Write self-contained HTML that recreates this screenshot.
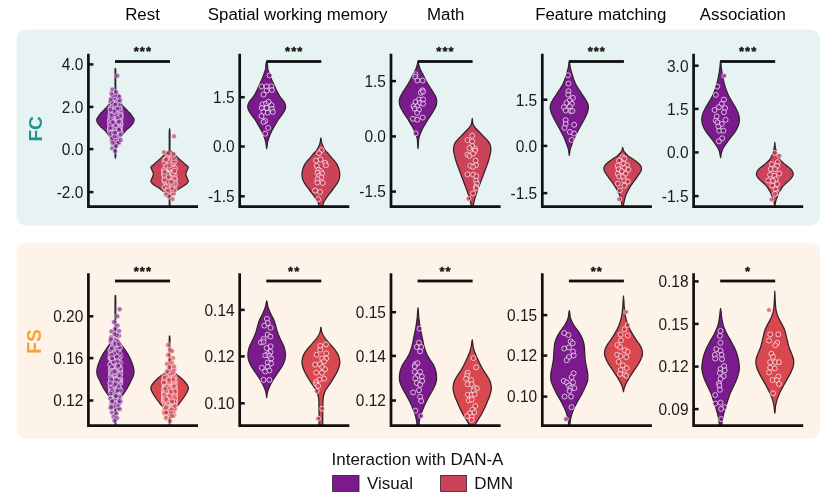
<!DOCTYPE html>
<html><head><meta charset="utf-8"><title>Figure</title>
<style>
html,body{margin:0;padding:0;background:#fff;}
body{width:832px;height:500px;overflow:hidden;}
#wrap{width:832px;height:500px;will-change:transform;}
svg{display:block;font-family:"Liberation Sans",sans-serif;}
</style></head><body>
<div id="wrap">
<svg width="832" height="500" viewBox="0 0 832 500">
<defs><filter id="gs" filterUnits="userSpaceOnUse" x="0" y="0" width="832" height="500"><feColorMatrix type="saturate" values="1"/></filter></defs>
<rect x="16.5" y="29.4" width="803.5" height="196.2" rx="9.5" ry="9.5" fill="#e7f3f3"/>
<rect x="16.5" y="243" width="803.5" height="195.8" rx="9.5" ry="9.5" fill="#fef3e8"/>
<path d="M115.40,68.50C115.52,68.50 115.70,68.08 115.76,72.00C115.82,75.92 115.67,88.00 115.76,92.00C115.85,96.00 115.88,94.67 116.30,96.00C116.72,97.33 117.33,98.50 118.30,100.00C119.27,101.50 120.85,103.50 122.10,105.00C123.35,106.50 124.52,107.67 125.80,109.00C127.08,110.33 128.63,111.67 129.80,113.00C130.97,114.33 132.08,115.90 132.80,117.00C133.52,118.10 134.03,118.60 134.10,119.60C134.17,120.60 133.92,121.77 133.20,123.00C132.48,124.23 131.12,125.67 129.80,127.00C128.48,128.33 126.55,129.67 125.30,131.00C124.05,132.33 123.30,133.67 122.30,135.00C121.30,136.33 120.13,137.67 119.30,139.00C118.47,140.33 117.85,141.67 117.30,143.00C116.75,144.33 116.26,145.83 116.00,147.00C115.74,148.17 115.80,148.50 115.76,150.00C115.72,151.50 115.82,154.60 115.76,156.00C115.70,157.40 115.52,158.40 115.40,158.40C115.28,158.40 115.10,157.40 115.04,156.00C114.98,154.60 115.08,151.50 115.04,150.00C115.00,148.50 115.06,148.17 114.80,147.00C114.54,145.83 114.05,144.33 113.50,143.00C112.95,141.67 112.33,140.33 111.50,139.00C110.67,137.67 109.50,136.33 108.50,135.00C107.50,133.67 106.75,132.33 105.50,131.00C104.25,129.67 102.32,128.33 101.00,127.00C99.68,125.67 98.32,124.23 97.60,123.00C96.88,121.77 96.63,120.60 96.70,119.60C96.77,118.60 97.28,118.10 98.00,117.00C98.72,115.90 99.83,114.33 101.00,113.00C102.17,111.67 103.72,110.33 105.00,109.00C106.28,107.67 107.45,106.50 108.70,105.00C109.95,103.50 111.53,101.50 112.50,100.00C113.47,98.50 114.08,97.33 114.50,96.00C114.92,94.67 114.95,96.00 115.04,92.00C115.13,88.00 114.98,75.92 115.04,72.00C115.10,68.08 115.28,68.50 115.40,68.50Z" fill="#7b1a8c" stroke="#30242a" stroke-width="1.25" stroke-linejoin="round"/>
<g fill="#7b1a8c" fill-opacity="0.62" stroke="#fff" stroke-opacity="0.80" stroke-width="0.60"><circle cx="117.1" cy="115.9" r="2.5"/><circle cx="110.6" cy="125.1" r="2.5"/><circle cx="110.4" cy="107.8" r="2.5"/><circle cx="115.5" cy="116.4" r="2.5"/><circle cx="110.6" cy="131.4" r="2.5"/><circle cx="110.8" cy="122.0" r="2.5"/><circle cx="111.2" cy="99.0" r="2.5"/><circle cx="112.3" cy="129.3" r="2.5"/><circle cx="116.3" cy="98.7" r="2.5"/><circle cx="114.2" cy="98.1" r="2.5"/><circle cx="119.4" cy="122.7" r="2.5"/><circle cx="113.0" cy="118.4" r="2.5"/><circle cx="113.3" cy="122.7" r="2.5"/><circle cx="118.9" cy="123.7" r="2.5"/><circle cx="117.0" cy="125.7" r="2.5"/><circle cx="114.0" cy="133.4" r="2.5"/><circle cx="110.5" cy="114.9" r="2.5"/><circle cx="112.1" cy="117.7" r="2.5"/><circle cx="113.3" cy="113.6" r="2.5"/><circle cx="116.4" cy="107.5" r="2.5"/><circle cx="118.7" cy="109.3" r="2.5"/><circle cx="117.6" cy="121.9" r="2.5"/><circle cx="115.7" cy="119.6" r="2.5"/><circle cx="119.6" cy="134.7" r="2.5"/><circle cx="120.8" cy="117.7" r="2.5"/><circle cx="111.1" cy="109.2" r="2.5"/><circle cx="111.5" cy="101.4" r="2.5"/><circle cx="115.3" cy="128.9" r="2.5"/><circle cx="118.4" cy="136.3" r="2.5"/><circle cx="116.2" cy="123.3" r="2.5"/><circle cx="117.6" cy="126.4" r="2.5"/><circle cx="116.5" cy="111.7" r="2.5"/><circle cx="119.2" cy="107.4" r="2.5"/><circle cx="120.4" cy="112.6" r="2.5"/><circle cx="110.5" cy="101.5" r="2.5"/><circle cx="117.7" cy="121.9" r="2.5"/><circle cx="119.0" cy="96.2" r="2.5"/><circle cx="117.3" cy="116.4" r="2.5"/><circle cx="110.1" cy="130.6" r="2.5"/><circle cx="111.1" cy="111.9" r="2.5"/><circle cx="110.5" cy="120.7" r="2.5"/><circle cx="112.6" cy="119.7" r="2.5"/><circle cx="114.2" cy="112.7" r="2.5"/><circle cx="114.8" cy="122.4" r="2.5"/><circle cx="116.0" cy="115.4" r="2.5"/><circle cx="119.5" cy="135.5" r="2.5"/><circle cx="112.9" cy="104.2" r="2.5"/><circle cx="119.7" cy="109.3" r="2.5"/><circle cx="120.5" cy="124.7" r="2.5"/><circle cx="112.4" cy="123.4" r="2.5"/><circle cx="112.4" cy="125.1" r="2.5"/><circle cx="112.7" cy="103.1" r="2.5"/><circle cx="109.8" cy="120.5" r="2.5"/><circle cx="116.1" cy="108.9" r="2.5"/><circle cx="120.5" cy="124.6" r="2.5"/><circle cx="116.7" cy="113.7" r="2.5"/><circle cx="117.4" cy="105.6" r="2.5"/><circle cx="118.5" cy="143.3" r="2.5"/><circle cx="119.6" cy="127.6" r="2.5"/><circle cx="114.3" cy="122.5" r="2.5"/><circle cx="111.0" cy="107.6" r="2.5"/><circle cx="110.6" cy="116.1" r="2.5"/><circle cx="112.1" cy="115.8" r="2.5"/><circle cx="110.4" cy="124.7" r="2.5"/><circle cx="109.8" cy="128.3" r="2.5"/><circle cx="113.9" cy="122.2" r="2.5"/><circle cx="110.1" cy="123.5" r="2.5"/><circle cx="111.5" cy="130.7" r="2.5"/><circle cx="112.6" cy="107.2" r="2.5"/><circle cx="111.2" cy="112.4" r="2.5"/><circle cx="119.3" cy="128.3" r="2.5"/><circle cx="115.2" cy="132.4" r="2.5"/><circle cx="110.8" cy="118.4" r="2.5"/><circle cx="112.8" cy="127.8" r="2.5"/><circle cx="119.1" cy="125.6" r="2.5"/><circle cx="120.5" cy="120.4" r="2.5"/><circle cx="115.7" cy="121.2" r="2.5"/><circle cx="110.1" cy="128.1" r="2.5"/><circle cx="115.7" cy="131.0" r="2.5"/><circle cx="117.6" cy="142.7" r="2.5"/><circle cx="112.7" cy="115.8" r="2.5"/><circle cx="118.4" cy="114.1" r="2.5"/><circle cx="115.8" cy="124.4" r="2.5"/><circle cx="112.3" cy="120.9" r="2.5"/><circle cx="118.9" cy="108.4" r="2.5"/><circle cx="118.8" cy="142.4" r="2.5"/><circle cx="119.0" cy="116.8" r="2.5"/><circle cx="115.6" cy="118.5" r="2.5"/><circle cx="113.8" cy="110.4" r="2.5"/><circle cx="112.9" cy="121.8" r="2.5"/><circle cx="112.7" cy="119.5" r="2.5"/><circle cx="114.8" cy="108.4" r="2.5"/><circle cx="120.5" cy="105.2" r="2.5"/><circle cx="112.3" cy="113.4" r="2.5"/><circle cx="112.0" cy="125.4" r="2.5"/><circle cx="119.9" cy="123.7" r="2.5"/><circle cx="119.2" cy="135.1" r="2.5"/><circle cx="118.8" cy="101.7" r="2.5"/><circle cx="110.7" cy="121.2" r="2.5"/><circle cx="118.6" cy="105.0" r="2.5"/><circle cx="118.2" cy="96.7" r="2.5"/><circle cx="118.6" cy="111.5" r="2.5"/><circle cx="113.5" cy="120.0" r="2.5"/><circle cx="114.2" cy="129.1" r="2.5"/><circle cx="117.9" cy="95.3" r="2.5"/><circle cx="111.7" cy="135.9" r="2.5"/><circle cx="119.9" cy="123.8" r="2.5"/><circle cx="118.8" cy="123.9" r="2.5"/><circle cx="120.8" cy="132.6" r="2.5"/><circle cx="117.2" cy="136.8" r="2.5"/><circle cx="111.3" cy="110.1" r="2.5"/><circle cx="110.0" cy="131.2" r="2.5"/><circle cx="115.7" cy="136.1" r="2.5"/><circle cx="120.3" cy="115.8" r="2.5"/><circle cx="119.1" cy="96.8" r="2.5"/><circle cx="112.2" cy="128.8" r="2.5"/><circle cx="112.5" cy="118.9" r="2.5"/><circle cx="116.4" cy="129.0" r="2.5"/><circle cx="111.3" cy="118.3" r="2.5"/><circle cx="120.0" cy="131.5" r="2.5"/><circle cx="116.3" cy="110.9" r="2.5"/><circle cx="119.9" cy="129.6" r="2.5"/><circle cx="115.4" cy="95.4" r="2.5"/><circle cx="115.8" cy="131.8" r="2.5"/><circle cx="114.7" cy="116.7" r="2.5"/><circle cx="111.9" cy="118.7" r="2.5"/><circle cx="111.7" cy="140.5" r="2.5"/><circle cx="115.1" cy="119.5" r="2.5"/><circle cx="113.5" cy="116.6" r="2.5"/><circle cx="115.6" cy="103.9" r="2.5"/><circle cx="111.0" cy="99.2" r="2.5"/><circle cx="116.1" cy="111.8" r="2.5"/><circle cx="118.4" cy="119.1" r="2.5"/><circle cx="115.5" cy="128.7" r="2.5"/><circle cx="120.0" cy="100.2" r="2.5"/><circle cx="114.8" cy="111.3" r="2.5"/><circle cx="115.5" cy="108.2" r="2.5"/><circle cx="117.6" cy="109.7" r="2.5"/><circle cx="115.2" cy="104.8" r="2.5"/><circle cx="120.3" cy="123.4" r="2.5"/><circle cx="120.4" cy="111.3" r="2.5"/><circle cx="112.7" cy="95.7" r="2.5"/><circle cx="119.2" cy="108.5" r="2.5"/><circle cx="114.8" cy="123.0" r="2.5"/><circle cx="110.6" cy="123.6" r="2.5"/><circle cx="117.3" cy="119.3" r="2.5"/><circle cx="118.6" cy="123.7" r="2.5"/><circle cx="117.8" cy="124.5" r="2.5"/><circle cx="117.2" cy="114.8" r="2.5"/><circle cx="120.6" cy="134.5" r="2.5"/><circle cx="112.3" cy="138.4" r="2.5"/><circle cx="115.3" cy="130.6" r="2.5"/><circle cx="120.9" cy="115.4" r="2.5"/><circle cx="114.6" cy="122.5" r="2.5"/><circle cx="115.6" cy="112.8" r="2.5"/><circle cx="113.4" cy="114.8" r="2.5"/><circle cx="117.9" cy="125.7" r="2.5"/><circle cx="114.7" cy="134.1" r="2.5"/><circle cx="110.0" cy="120.9" r="2.5"/><circle cx="115.5" cy="110.8" r="2.5"/><circle cx="110.5" cy="133.6" r="2.5"/><circle cx="120.7" cy="140.1" r="2.5"/><circle cx="111.0" cy="117.0" r="2.5"/><circle cx="118.5" cy="118.7" r="2.5"/><circle cx="112.8" cy="122.4" r="2.5"/><circle cx="120.0" cy="127.6" r="2.5"/><circle cx="119.0" cy="128.1" r="2.5"/><circle cx="120.1" cy="118.6" r="2.5"/><circle cx="116.2" cy="125.8" r="2.5"/><circle cx="110.4" cy="117.4" r="2.5"/><circle cx="117.5" cy="114.1" r="2.5"/><circle cx="120.3" cy="114.9" r="2.5"/><circle cx="116.9" cy="121.1" r="2.5"/><circle cx="119.4" cy="120.6" r="2.5"/><circle cx="110.5" cy="114.2" r="2.5"/><circle cx="113.6" cy="127.6" r="2.5"/><circle cx="116.0" cy="109.0" r="2.5"/><circle cx="111.2" cy="127.5" r="2.5"/><circle cx="115.7" cy="114.8" r="2.5"/><circle cx="111.6" cy="119.4" r="2.5"/><circle cx="110.4" cy="124.8" r="2.5"/><circle cx="113.2" cy="122.1" r="2.5"/><circle cx="118.3" cy="128.9" r="2.5"/><circle cx="111.8" cy="115.5" r="2.5"/><circle cx="113.7" cy="132.7" r="2.5"/><circle cx="110.0" cy="128.1" r="2.5"/><circle cx="118.0" cy="120.0" r="2.5"/><circle cx="115.1" cy="111.6" r="2.5"/><circle cx="120.3" cy="116.5" r="2.5"/><circle cx="114.6" cy="136.4" r="2.5"/><circle cx="115.3" cy="132.7" r="2.5"/><circle cx="115.5" cy="125.1" r="2.5"/><circle cx="117.5" cy="108.7" r="2.5"/><circle cx="119.1" cy="129.9" r="2.5"/><circle cx="117.7" cy="117.8" r="2.5"/><circle cx="113.7" cy="111.0" r="2.5"/><circle cx="110.4" cy="109.8" r="2.5"/><circle cx="118.1" cy="122.2" r="2.5"/><circle cx="112.7" cy="122.3" r="2.5"/><circle cx="119.2" cy="121.6" r="2.5"/><circle cx="117.3" cy="75.8" r="2.5"/><circle cx="112.3" cy="89.5" r="2.5"/><circle cx="111.5" cy="93.5" r="2.5"/><circle cx="116.0" cy="92.0" r="2.5"/><circle cx="112.5" cy="143.0" r="2.5"/><circle cx="116.2" cy="146.0" r="2.5"/><circle cx="112.2" cy="148.2" r="2.5"/><circle cx="115.0" cy="151.0" r="2.5"/></g>
<path d="M169.60,128.70C169.72,128.70 169.90,129.78 169.96,133.00C170.02,136.22 169.92,145.07 169.96,148.00C170.00,150.93 169.69,149.72 170.20,150.60C170.71,151.48 172.03,152.40 173.00,153.30C173.97,154.20 174.50,154.65 176.00,156.00C177.50,157.35 180.33,159.90 182.00,161.40C183.67,162.90 184.95,164.03 186.00,165.00C187.05,165.97 188.13,166.28 188.30,167.20C188.47,168.12 187.42,169.37 187.00,170.50C186.58,171.63 185.80,172.80 185.80,174.00C185.80,175.20 186.58,176.48 187.00,177.70C187.42,178.92 188.38,180.25 188.30,181.30C188.22,182.35 187.72,182.95 186.50,184.00C185.28,185.05 182.92,186.27 181.00,187.60C179.08,188.93 176.75,190.65 175.00,192.00C173.25,193.35 171.34,194.70 170.50,195.70C169.66,196.70 170.05,196.45 169.96,198.00C169.87,199.55 170.02,203.67 169.96,205.00C169.90,206.33 169.72,206.00 169.60,206.00C169.48,206.00 169.30,206.33 169.24,205.00C169.18,203.67 169.33,199.55 169.24,198.00C169.15,196.45 169.54,196.70 168.70,195.70C167.86,194.70 165.95,193.35 164.20,192.00C162.45,190.65 160.12,188.93 158.20,187.60C156.28,186.27 153.92,185.05 152.70,184.00C151.48,182.95 150.98,182.35 150.90,181.30C150.82,180.25 151.78,178.92 152.20,177.70C152.62,176.48 153.40,175.20 153.40,174.00C153.40,172.80 152.62,171.63 152.20,170.50C151.78,169.37 150.73,168.12 150.90,167.20C151.07,166.28 152.15,165.97 153.20,165.00C154.25,164.03 155.53,162.90 157.20,161.40C158.87,159.90 161.70,157.35 163.20,156.00C164.70,154.65 165.23,154.20 166.20,153.30C167.17,152.40 168.49,151.48 169.00,150.60C169.51,149.72 169.20,150.93 169.24,148.00C169.28,145.07 169.18,136.22 169.24,133.00C169.30,129.78 169.48,128.70 169.60,128.70Z" fill="#cb4259" stroke="#30242a" stroke-width="1.25" stroke-linejoin="round"/>
<g fill="#c4324f" fill-opacity="0.62" stroke="#fff" stroke-opacity="0.80" stroke-width="0.60"><circle cx="173.8" cy="178.6" r="2.5"/><circle cx="166.7" cy="171.1" r="2.5"/><circle cx="167.3" cy="167.9" r="2.5"/><circle cx="169.0" cy="169.3" r="2.5"/><circle cx="166.9" cy="176.5" r="2.5"/><circle cx="170.1" cy="168.6" r="2.5"/><circle cx="167.5" cy="175.9" r="2.5"/><circle cx="168.3" cy="174.7" r="2.5"/><circle cx="169.3" cy="175.4" r="2.5"/><circle cx="169.7" cy="168.3" r="2.5"/><circle cx="164.1" cy="174.9" r="2.5"/><circle cx="168.5" cy="174.6" r="2.5"/><circle cx="164.5" cy="179.3" r="2.5"/><circle cx="166.6" cy="183.4" r="2.5"/><circle cx="170.6" cy="176.2" r="2.5"/><circle cx="171.4" cy="158.6" r="2.5"/><circle cx="172.0" cy="172.0" r="2.5"/><circle cx="167.7" cy="182.2" r="2.5"/><circle cx="175.0" cy="168.2" r="2.5"/><circle cx="171.2" cy="184.5" r="2.5"/><circle cx="164.5" cy="188.0" r="2.5"/><circle cx="171.0" cy="185.8" r="2.5"/><circle cx="172.2" cy="156.9" r="2.5"/><circle cx="169.9" cy="177.1" r="2.5"/><circle cx="169.6" cy="169.9" r="2.5"/><circle cx="173.3" cy="184.2" r="2.5"/><circle cx="170.5" cy="159.4" r="2.5"/><circle cx="171.8" cy="186.8" r="2.5"/><circle cx="166.6" cy="165.5" r="2.5"/><circle cx="168.0" cy="180.2" r="2.5"/><circle cx="165.2" cy="176.0" r="2.5"/><circle cx="171.0" cy="181.6" r="2.5"/><circle cx="171.0" cy="164.0" r="2.5"/><circle cx="164.0" cy="170.1" r="2.5"/><circle cx="172.9" cy="164.5" r="2.5"/><circle cx="170.0" cy="174.9" r="2.5"/><circle cx="171.4" cy="163.2" r="2.5"/><circle cx="166.8" cy="190.0" r="2.5"/><circle cx="164.8" cy="181.6" r="2.5"/><circle cx="166.3" cy="173.4" r="2.5"/><circle cx="172.3" cy="191.1" r="2.5"/><circle cx="168.3" cy="186.5" r="2.5"/><circle cx="169.4" cy="173.2" r="2.5"/><circle cx="170.9" cy="168.1" r="2.5"/><circle cx="171.2" cy="159.4" r="2.5"/><circle cx="166.8" cy="180.0" r="2.5"/><circle cx="172.3" cy="177.6" r="2.5"/><circle cx="164.1" cy="170.7" r="2.5"/><circle cx="164.7" cy="187.2" r="2.5"/><circle cx="171.8" cy="173.2" r="2.5"/><circle cx="171.6" cy="189.8" r="2.5"/><circle cx="169.2" cy="171.9" r="2.5"/><circle cx="169.2" cy="186.7" r="2.5"/><circle cx="166.2" cy="190.6" r="2.5"/><circle cx="175.0" cy="189.3" r="2.5"/><circle cx="169.1" cy="176.7" r="2.5"/><circle cx="173.2" cy="174.3" r="2.5"/><circle cx="167.0" cy="185.7" r="2.5"/><circle cx="166.4" cy="172.8" r="2.5"/><circle cx="170.5" cy="181.5" r="2.5"/><circle cx="165.6" cy="172.7" r="2.5"/><circle cx="165.5" cy="171.3" r="2.5"/><circle cx="173.9" cy="180.1" r="2.5"/><circle cx="171.9" cy="164.2" r="2.5"/><circle cx="169.4" cy="177.5" r="2.5"/><circle cx="169.5" cy="175.8" r="2.5"/><circle cx="169.0" cy="175.1" r="2.5"/><circle cx="167.9" cy="173.2" r="2.5"/><circle cx="167.5" cy="180.2" r="2.5"/><circle cx="172.4" cy="175.3" r="2.5"/><circle cx="173.4" cy="174.5" r="2.5"/><circle cx="172.0" cy="191.6" r="2.5"/><circle cx="174.1" cy="190.6" r="2.5"/><circle cx="168.4" cy="172.6" r="2.5"/><circle cx="175.2" cy="184.3" r="2.5"/><circle cx="168.8" cy="167.0" r="2.5"/><circle cx="167.1" cy="170.0" r="2.5"/><circle cx="173.3" cy="179.4" r="2.5"/><circle cx="167.2" cy="176.4" r="2.5"/><circle cx="167.0" cy="182.0" r="2.5"/><circle cx="169.7" cy="172.0" r="2.5"/><circle cx="174.7" cy="178.6" r="2.5"/><circle cx="173.9" cy="184.0" r="2.5"/><circle cx="174.2" cy="180.4" r="2.5"/><circle cx="174.5" cy="161.9" r="2.5"/><circle cx="164.6" cy="159.8" r="2.5"/><circle cx="172.2" cy="170.1" r="2.5"/><circle cx="171.2" cy="159.1" r="2.5"/><circle cx="167.2" cy="180.1" r="2.5"/><circle cx="165.4" cy="181.9" r="2.5"/><circle cx="167.3" cy="166.0" r="2.5"/><circle cx="172.3" cy="176.6" r="2.5"/><circle cx="171.3" cy="182.7" r="2.5"/><circle cx="167.4" cy="173.8" r="2.5"/><circle cx="165.9" cy="165.6" r="2.5"/><circle cx="165.8" cy="171.5" r="2.5"/><circle cx="169.6" cy="180.7" r="2.5"/><circle cx="175.2" cy="179.1" r="2.5"/><circle cx="166.2" cy="169.8" r="2.5"/><circle cx="165.0" cy="176.7" r="2.5"/><circle cx="166.7" cy="172.6" r="2.5"/><circle cx="166.9" cy="178.7" r="2.5"/><circle cx="172.4" cy="156.1" r="2.5"/><circle cx="168.6" cy="166.1" r="2.5"/><circle cx="168.2" cy="164.6" r="2.5"/><circle cx="167.8" cy="181.3" r="2.5"/><circle cx="174.8" cy="182.5" r="2.5"/><circle cx="165.4" cy="178.1" r="2.5"/><circle cx="173.7" cy="160.9" r="2.5"/><circle cx="166.4" cy="174.7" r="2.5"/><circle cx="168.5" cy="174.0" r="2.5"/><circle cx="169.0" cy="182.5" r="2.5"/><circle cx="173.8" cy="193.6" r="2.5"/><circle cx="164.2" cy="169.5" r="2.5"/><circle cx="174.0" cy="190.4" r="2.5"/><circle cx="169.3" cy="178.2" r="2.5"/><circle cx="168.4" cy="174.8" r="2.5"/><circle cx="174.4" cy="174.9" r="2.5"/><circle cx="174.9" cy="184.0" r="2.5"/><circle cx="166.8" cy="157.5" r="2.5"/><circle cx="169.9" cy="179.5" r="2.5"/><circle cx="171.6" cy="178.7" r="2.5"/><circle cx="171.3" cy="189.9" r="2.5"/><circle cx="172.6" cy="169.3" r="2.5"/><circle cx="164.4" cy="162.8" r="2.5"/><circle cx="172.8" cy="178.4" r="2.5"/><circle cx="171.2" cy="177.5" r="2.5"/><circle cx="166.8" cy="173.3" r="2.5"/><circle cx="171.1" cy="179.9" r="2.5"/><circle cx="164.8" cy="173.5" r="2.5"/><circle cx="169.9" cy="170.4" r="2.5"/><circle cx="166.5" cy="166.4" r="2.5"/><circle cx="170.7" cy="170.1" r="2.5"/><circle cx="169.2" cy="183.5" r="2.5"/><circle cx="174.7" cy="175.6" r="2.5"/><circle cx="169.3" cy="162.2" r="2.5"/><circle cx="166.6" cy="158.6" r="2.5"/><circle cx="171.9" cy="175.5" r="2.5"/><circle cx="169.6" cy="174.3" r="2.5"/><circle cx="171.6" cy="177.0" r="2.5"/><circle cx="171.5" cy="168.2" r="2.5"/><circle cx="174.4" cy="178.7" r="2.5"/><circle cx="167.8" cy="175.4" r="2.5"/><circle cx="168.7" cy="177.6" r="2.5"/><circle cx="172.9" cy="172.3" r="2.5"/><circle cx="172.3" cy="168.9" r="2.5"/><circle cx="174.9" cy="168.2" r="2.5"/><circle cx="167.5" cy="174.8" r="2.5"/><circle cx="166.5" cy="178.1" r="2.5"/><circle cx="172.5" cy="168.4" r="2.5"/><circle cx="169.6" cy="168.1" r="2.5"/><circle cx="168.7" cy="177.7" r="2.5"/><circle cx="171.5" cy="181.6" r="2.5"/><circle cx="168.4" cy="180.3" r="2.5"/><circle cx="166.4" cy="173.2" r="2.5"/><circle cx="164.6" cy="180.5" r="2.5"/><circle cx="164.7" cy="174.1" r="2.5"/><circle cx="173.9" cy="158.2" r="2.5"/><circle cx="172.2" cy="188.3" r="2.5"/><circle cx="167.7" cy="174.6" r="2.5"/><circle cx="172.4" cy="184.2" r="2.5"/><circle cx="168.2" cy="189.5" r="2.5"/><circle cx="168.2" cy="177.9" r="2.5"/><circle cx="164.0" cy="172.0" r="2.5"/><circle cx="167.1" cy="180.3" r="2.5"/><circle cx="165.4" cy="160.1" r="2.5"/><circle cx="168.0" cy="181.6" r="2.5"/><circle cx="173.2" cy="173.5" r="2.5"/><circle cx="164.6" cy="179.7" r="2.5"/><circle cx="169.3" cy="165.4" r="2.5"/><circle cx="166.2" cy="159.4" r="2.5"/><circle cx="168.1" cy="191.1" r="2.5"/><circle cx="168.6" cy="177.0" r="2.5"/><circle cx="173.1" cy="173.5" r="2.5"/><circle cx="164.4" cy="175.3" r="2.5"/><circle cx="164.7" cy="172.1" r="2.5"/><circle cx="172.4" cy="181.8" r="2.5"/><circle cx="174.1" cy="171.3" r="2.5"/><circle cx="174.7" cy="170.8" r="2.5"/><circle cx="170.9" cy="181.8" r="2.5"/><circle cx="174.0" cy="136.3" r="2.5"/><circle cx="164.0" cy="152.2" r="2.5"/><circle cx="168.5" cy="153.2" r="2.5"/><circle cx="173.5" cy="154.0" r="2.5"/><circle cx="166.0" cy="194.5" r="2.5"/><circle cx="169.0" cy="196.5" r="2.5"/><circle cx="172.5" cy="199.0" r="2.5"/></g>
<path d="M88.40,53.80 V206.55 H198.00" fill="none" stroke="#111" stroke-width="2.7" stroke-linejoin="miter"/>
<rect x="88.90" y="63.15" width="4.5" height="2.5" fill="#111"/>
<rect x="88.90" y="105.65" width="4.5" height="2.5" fill="#111"/>
<rect x="88.90" y="147.85" width="4.5" height="2.5" fill="#111"/>
<rect x="88.90" y="190.85" width="4.5" height="2.5" fill="#111"/>
<rect x="115.00" y="60.10" width="55.00" height="2.8" fill="#111"/>
<path d="M266.70,61.50C266.96,61.50 267.30,62.75 267.48,64.00C267.66,65.25 267.46,67.32 267.80,69.00C268.14,70.68 268.78,72.13 269.50,74.10C270.22,76.07 271.27,78.85 272.10,80.80C272.93,82.75 273.73,84.12 274.50,85.80C275.27,87.48 275.87,89.22 276.70,90.90C277.53,92.58 278.58,94.50 279.50,95.90C280.42,97.30 281.35,98.17 282.20,99.30C283.05,100.43 284.03,101.58 284.60,102.70C285.17,103.82 285.52,104.88 285.60,106.00C285.68,107.12 285.67,108.00 285.10,109.40C284.53,110.80 283.32,112.72 282.20,114.40C281.08,116.08 279.60,117.68 278.40,119.50C277.20,121.32 276.13,123.35 275.00,125.30C273.87,127.25 272.63,129.08 271.60,131.20C270.57,133.32 269.49,136.03 268.80,138.00C268.11,139.97 267.83,141.20 267.48,143.00C267.13,144.80 266.96,148.80 266.70,148.80C266.44,148.80 266.27,144.80 265.92,143.00C265.57,141.20 265.29,139.97 264.60,138.00C263.91,136.03 262.83,133.32 261.80,131.20C260.77,129.08 259.53,127.25 258.40,125.30C257.27,123.35 256.20,121.32 255.00,119.50C253.80,117.68 252.32,116.08 251.20,114.40C250.08,112.72 248.87,110.80 248.30,109.40C247.73,108.00 247.72,107.12 247.80,106.00C247.88,104.88 248.23,103.82 248.80,102.70C249.37,101.58 250.35,100.43 251.20,99.30C252.05,98.17 252.98,97.30 253.90,95.90C254.82,94.50 255.87,92.58 256.70,90.90C257.53,89.22 258.13,87.48 258.90,85.80C259.67,84.12 260.47,82.75 261.30,80.80C262.13,78.85 263.18,76.07 263.90,74.10C264.62,72.13 265.26,70.68 265.60,69.00C265.94,67.32 265.74,65.25 265.92,64.00C266.10,62.75 266.44,61.50 266.70,61.50Z" fill="#7b1a8c" stroke="#30242a" stroke-width="1.25" stroke-linejoin="round"/>
<g fill="#7b1a8c" fill-opacity="0.68" stroke="#fff" stroke-opacity="0.88" stroke-width="0.78"><circle cx="269.7" cy="75.4" r="2.5"/><circle cx="261.5" cy="86.4" r="2.5"/><circle cx="266.6" cy="86.4" r="2.5"/><circle cx="271.4" cy="86.4" r="2.5"/><circle cx="266.6" cy="90.6" r="2.5"/><circle cx="271.9" cy="90.0" r="2.5"/><circle cx="263.5" cy="94.6" r="2.5"/><circle cx="262.7" cy="104.3" r="2.5"/><circle cx="266.0" cy="103.5" r="2.5"/><circle cx="268.6" cy="101.8" r="2.5"/><circle cx="271.6" cy="105.2" r="2.5"/><circle cx="261.8" cy="108.0" r="2.5"/><circle cx="266.6" cy="108.0" r="2.5"/><circle cx="271.9" cy="109.0" r="2.5"/><circle cx="263.5" cy="111.9" r="2.5"/><circle cx="267.7" cy="112.7" r="2.5"/><circle cx="272.8" cy="111.9" r="2.5"/><circle cx="261.5" cy="116.1" r="2.5"/><circle cx="265.2" cy="120.8" r="2.5"/><circle cx="263.5" cy="122.0" r="2.5"/><circle cx="268.2" cy="127.9" r="2.5"/><circle cx="265.2" cy="133.7" r="2.5"/></g>
<path d="M320.90,137.80C321.20,137.80 321.20,141.20 321.80,143.10C322.40,145.00 323.52,147.55 324.50,149.20C325.48,150.85 326.63,151.73 327.70,153.00C328.77,154.27 329.82,155.53 330.90,156.80C331.98,158.07 333.18,159.33 334.20,160.60C335.22,161.87 336.18,162.88 337.00,164.40C337.82,165.92 338.63,167.93 339.10,169.70C339.57,171.47 339.82,173.35 339.80,175.00C339.78,176.65 339.43,178.20 339.00,179.60C338.57,181.00 337.97,182.13 337.20,183.40C336.43,184.67 335.33,185.93 334.40,187.20C333.47,188.47 332.57,189.73 331.60,191.00C330.63,192.27 329.45,193.67 328.60,194.80C327.75,195.93 327.18,196.78 326.50,197.80C325.82,198.82 325.02,200.02 324.50,200.90C323.98,201.78 323.72,202.28 323.40,203.10C323.08,203.92 323.30,205.35 322.60,205.80C321.90,206.25 319.90,206.25 319.20,205.80C318.50,205.35 318.72,203.92 318.40,203.10C318.08,202.28 317.82,201.78 317.30,200.90C316.78,200.02 315.98,198.82 315.30,197.80C314.62,196.78 314.05,195.93 313.20,194.80C312.35,193.67 311.17,192.27 310.20,191.00C309.23,189.73 308.33,188.47 307.40,187.20C306.47,185.93 305.37,184.67 304.60,183.40C303.83,182.13 303.23,181.00 302.80,179.60C302.37,178.20 302.02,176.65 302.00,175.00C301.98,173.35 302.23,171.47 302.70,169.70C303.17,167.93 303.98,165.92 304.80,164.40C305.62,162.88 306.58,161.87 307.60,160.60C308.62,159.33 309.82,158.07 310.90,156.80C311.98,155.53 313.03,154.27 314.10,153.00C315.17,151.73 316.32,150.85 317.30,149.20C318.28,147.55 319.40,145.00 320.00,143.10C320.60,141.20 320.60,137.80 320.90,137.80Z" fill="#cb4259" stroke="#30242a" stroke-width="1.25" stroke-linejoin="round"/>
<g fill="#c4324f" fill-opacity="0.68" stroke="#fff" stroke-opacity="0.88" stroke-width="0.78"><circle cx="321.7" cy="150.0" r="2.5"/><circle cx="319.1" cy="153.0" r="2.5"/><circle cx="316.0" cy="160.6" r="2.5"/><circle cx="320.6" cy="159.5" r="2.5"/><circle cx="325.2" cy="162.9" r="2.5"/><circle cx="325.9" cy="165.2" r="2.5"/><circle cx="316.8" cy="165.9" r="2.5"/><circle cx="318.3" cy="169.7" r="2.5"/><circle cx="320.6" cy="171.2" r="2.5"/><circle cx="317.6" cy="172.8" r="2.5"/><circle cx="322.1" cy="173.5" r="2.5"/><circle cx="319.1" cy="175.8" r="2.5"/><circle cx="321.4" cy="177.3" r="2.5"/><circle cx="317.6" cy="179.3" r="2.5"/><circle cx="317.4" cy="182.6" r="2.5"/><circle cx="322.8" cy="183.0" r="2.5"/><circle cx="315.1" cy="190.5" r="2.5"/><circle cx="320.1" cy="192.0" r="2.5"/><circle cx="318.1" cy="199.2" r="2.5"/></g>
<path d="M239.70,53.80 V206.55 H349.30" fill="none" stroke="#111" stroke-width="2.7" stroke-linejoin="miter"/>
<rect x="240.20" y="95.95" width="4.5" height="2.5" fill="#111"/>
<rect x="240.20" y="145.25" width="4.5" height="2.5" fill="#111"/>
<rect x="240.20" y="195.05" width="4.5" height="2.5" fill="#111"/>
<rect x="266.30" y="60.10" width="55.00" height="2.8" fill="#111"/>
<path d="M418.00,61.50C418.16,61.50 418.16,62.25 418.48,63.40C418.80,64.55 419.25,66.73 419.90,68.40C420.55,70.07 421.70,72.00 422.40,73.40C423.10,74.80 423.40,75.40 424.10,76.80C424.80,78.20 425.67,80.12 426.60,81.80C427.53,83.48 428.63,85.22 429.70,86.90C430.77,88.58 432.05,90.37 433.00,91.90C433.95,93.43 434.78,94.70 435.40,96.10C436.02,97.50 436.53,98.90 436.70,100.30C436.87,101.70 436.73,103.10 436.40,104.50C436.07,105.90 435.48,107.15 434.70,108.70C433.92,110.25 432.77,112.12 431.70,113.80C430.63,115.48 429.37,117.12 428.30,118.80C427.23,120.48 426.28,122.22 425.30,123.90C424.32,125.58 423.23,127.23 422.40,128.90C421.57,130.57 420.91,132.22 420.30,133.90C419.69,135.58 419.10,136.52 418.72,139.00C418.34,141.48 418.24,148.80 418.00,148.80C417.76,148.80 417.66,141.48 417.28,139.00C416.90,136.52 416.31,135.58 415.70,133.90C415.09,132.22 414.43,130.57 413.60,128.90C412.77,127.23 411.68,125.58 410.70,123.90C409.72,122.22 408.77,120.48 407.70,118.80C406.63,117.12 405.37,115.48 404.30,113.80C403.23,112.12 402.08,110.25 401.30,108.70C400.52,107.15 399.93,105.90 399.60,104.50C399.27,103.10 399.13,101.70 399.30,100.30C399.47,98.90 399.98,97.50 400.60,96.10C401.22,94.70 402.05,93.43 403.00,91.90C403.95,90.37 405.23,88.58 406.30,86.90C407.37,85.22 408.47,83.48 409.40,81.80C410.33,80.12 411.20,78.20 411.90,76.80C412.60,75.40 412.90,74.80 413.60,73.40C414.30,72.00 415.45,70.07 416.10,68.40C416.75,66.73 417.20,64.55 417.52,63.40C417.84,62.25 417.84,61.50 418.00,61.50Z" fill="#7b1a8c" stroke="#30242a" stroke-width="1.25" stroke-linejoin="round"/>
<g fill="#7b1a8c" fill-opacity="0.68" stroke="#fff" stroke-opacity="0.88" stroke-width="0.78"><circle cx="415.5" cy="74.3" r="2.5"/><circle cx="415.2" cy="76.8" r="2.5"/><circle cx="417.5" cy="80.5" r="2.5"/><circle cx="422.6" cy="80.5" r="2.5"/><circle cx="422.3" cy="90.3" r="2.5"/><circle cx="420.9" cy="92.8" r="2.5"/><circle cx="423.1" cy="91.6" r="2.5"/><circle cx="418.9" cy="99.5" r="2.5"/><circle cx="423.1" cy="99.5" r="2.5"/><circle cx="415.5" cy="102.0" r="2.5"/><circle cx="419.7" cy="102.9" r="2.5"/><circle cx="423.1" cy="103.7" r="2.5"/><circle cx="413.5" cy="106.2" r="2.5"/><circle cx="417.2" cy="106.2" r="2.5"/><circle cx="414.7" cy="108.7" r="2.5"/><circle cx="418.9" cy="109.6" r="2.5"/><circle cx="417.2" cy="112.9" r="2.5"/><circle cx="413.0" cy="118.8" r="2.5"/><circle cx="417.2" cy="119.7" r="2.5"/><circle cx="422.6" cy="117.5" r="2.5"/><circle cx="415.5" cy="133.4" r="2.5"/></g>
<path d="M472.20,118.30C472.40,118.30 472.35,122.00 472.80,123.50C473.25,125.00 473.98,126.05 474.90,127.30C475.82,128.55 477.12,129.75 478.30,131.00C479.48,132.25 480.75,133.53 482.00,134.80C483.25,136.07 484.63,137.35 485.80,138.60C486.97,139.85 488.22,141.05 489.00,142.30C489.78,143.55 490.18,144.85 490.50,146.10C490.82,147.35 490.93,148.55 490.90,149.80C490.87,151.05 490.62,152.03 490.30,153.60C489.98,155.17 489.53,157.32 489.00,159.20C488.47,161.08 487.88,162.70 487.10,164.90C486.32,167.10 485.23,169.90 484.30,172.40C483.37,174.90 482.45,177.40 481.50,179.90C480.55,182.40 479.52,184.90 478.60,187.40C477.68,189.90 476.72,192.70 476.00,194.90C475.28,197.10 474.73,199.03 474.30,200.60C473.87,202.17 473.60,203.43 473.40,204.30C473.20,205.17 473.45,205.55 473.10,205.80C472.75,206.05 471.65,206.05 471.30,205.80C470.95,205.55 471.20,205.17 471.00,204.30C470.80,203.43 470.53,202.17 470.10,200.60C469.67,199.03 469.12,197.10 468.40,194.90C467.68,192.70 466.72,189.90 465.80,187.40C464.88,184.90 463.85,182.40 462.90,179.90C461.95,177.40 461.03,174.90 460.10,172.40C459.17,169.90 458.08,167.10 457.30,164.90C456.52,162.70 455.93,161.08 455.40,159.20C454.87,157.32 454.42,155.17 454.10,153.60C453.78,152.03 453.53,151.05 453.50,149.80C453.47,148.55 453.58,147.35 453.90,146.10C454.22,144.85 454.62,143.55 455.40,142.30C456.18,141.05 457.43,139.85 458.60,138.60C459.77,137.35 461.15,136.07 462.40,134.80C463.65,133.53 464.92,132.25 466.10,131.00C467.28,129.75 468.58,128.55 469.50,127.30C470.42,126.05 471.15,125.00 471.60,123.50C472.05,122.00 472.00,118.30 472.20,118.30Z" fill="#cb4259" stroke="#30242a" stroke-width="1.25" stroke-linejoin="round"/>
<g fill="#c4324f" fill-opacity="0.68" stroke="#fff" stroke-opacity="0.88" stroke-width="0.78"><circle cx="472.2" cy="135.7" r="2.5"/><circle cx="467.5" cy="140.1" r="2.5"/><circle cx="472.2" cy="141.4" r="2.5"/><circle cx="472.2" cy="146.1" r="2.5"/><circle cx="469.4" cy="148.0" r="2.5"/><circle cx="475.0" cy="148.9" r="2.5"/><circle cx="475.0" cy="150.8" r="2.5"/><circle cx="467.5" cy="154.5" r="2.5"/><circle cx="469.4" cy="155.8" r="2.5"/><circle cx="473.1" cy="153.6" r="2.5"/><circle cx="475.6" cy="160.7" r="2.5"/><circle cx="470.3" cy="165.8" r="2.5"/><circle cx="476.0" cy="165.2" r="2.5"/><circle cx="473.1" cy="166.8" r="2.5"/><circle cx="467.5" cy="174.3" r="2.5"/><circle cx="473.1" cy="174.6" r="2.5"/><circle cx="476.3" cy="176.2" r="2.5"/><circle cx="476.0" cy="180.8" r="2.5"/><circle cx="476.9" cy="183.7" r="2.5"/><circle cx="476.0" cy="187.0" r="2.5"/><circle cx="476.3" cy="188.4" r="2.5"/><circle cx="473.1" cy="193.4" r="2.5"/><circle cx="468.4" cy="198.7" r="2.5"/></g>
<path d="M391.00,53.80 V206.55 H500.60" fill="none" stroke="#111" stroke-width="2.7" stroke-linejoin="miter"/>
<rect x="391.50" y="79.85" width="4.5" height="2.5" fill="#111"/>
<rect x="391.50" y="135.15" width="4.5" height="2.5" fill="#111"/>
<rect x="391.50" y="190.35" width="4.5" height="2.5" fill="#111"/>
<rect x="417.60" y="60.10" width="55.00" height="2.8" fill="#111"/>
<path d="M569.30,61.50C569.38,61.50 569.36,60.98 569.54,62.10C569.72,63.22 569.97,66.17 570.40,68.20C570.83,70.23 571.48,72.27 572.10,74.30C572.72,76.33 573.28,78.35 574.10,80.40C574.92,82.45 575.85,84.55 577.00,86.60C578.15,88.65 579.65,90.67 581.00,92.70C582.35,94.73 583.97,96.93 585.10,98.80C586.23,100.67 587.25,102.37 587.80,103.90C588.35,105.43 588.50,106.47 588.40,108.00C588.30,109.53 587.88,111.23 587.20,113.10C586.52,114.97 585.33,117.17 584.30,119.20C583.27,121.23 582.12,123.25 581.00,125.30C579.88,127.35 578.68,129.45 577.60,131.50C576.52,133.55 575.42,135.57 574.50,137.60C573.58,139.63 572.84,141.67 572.10,143.70C571.36,145.73 570.55,147.82 570.08,149.80C569.61,151.78 569.56,155.60 569.30,155.60C569.04,155.60 568.99,151.78 568.52,149.80C568.05,147.82 567.24,145.73 566.50,143.70C565.76,141.67 565.02,139.63 564.10,137.60C563.18,135.57 562.08,133.55 561.00,131.50C559.92,129.45 558.72,127.35 557.60,125.30C556.48,123.25 555.33,121.23 554.30,119.20C553.27,117.17 552.08,114.97 551.40,113.10C550.72,111.23 550.30,109.53 550.20,108.00C550.10,106.47 550.25,105.43 550.80,103.90C551.35,102.37 552.37,100.67 553.50,98.80C554.63,96.93 556.25,94.73 557.60,92.70C558.95,90.67 560.45,88.65 561.60,86.60C562.75,84.55 563.68,82.45 564.50,80.40C565.32,78.35 565.88,76.33 566.50,74.30C567.12,72.27 567.77,70.23 568.20,68.20C568.63,66.17 568.88,63.22 569.06,62.10C569.24,60.98 569.22,61.50 569.30,61.50Z" fill="#7b1a8c" stroke="#30242a" stroke-width="1.25" stroke-linejoin="round"/>
<g fill="#7b1a8c" fill-opacity="0.68" stroke="#fff" stroke-opacity="0.88" stroke-width="0.78"><circle cx="567.9" cy="75.2" r="2.5"/><circle cx="568.5" cy="83.6" r="2.5"/><circle cx="568.5" cy="91.2" r="2.5"/><circle cx="568.2" cy="94.6" r="2.5"/><circle cx="572.9" cy="97.9" r="2.5"/><circle cx="569.6" cy="100.5" r="2.5"/><circle cx="566.5" cy="103.0" r="2.5"/><circle cx="571.9" cy="103.8" r="2.5"/><circle cx="564.0" cy="107.2" r="2.5"/><circle cx="569.9" cy="106.3" r="2.5"/><circle cx="565.7" cy="110.5" r="2.5"/><circle cx="570.7" cy="111.0" r="2.5"/><circle cx="572.4" cy="111.0" r="2.5"/><circle cx="565.7" cy="120.1" r="2.5"/><circle cx="565.7" cy="124.0" r="2.5"/><circle cx="574.1" cy="124.8" r="2.5"/><circle cx="564.5" cy="127.8" r="2.5"/><circle cx="569.9" cy="132.0" r="2.5"/><circle cx="574.1" cy="133.6" r="2.5"/><circle cx="571.6" cy="140.0" r="2.5"/></g>
<path d="M622.70,147.30C622.96,147.30 623.03,149.62 623.48,150.60C623.93,151.58 624.65,152.32 625.40,153.20C626.15,154.08 626.90,155.02 628.00,155.90C629.10,156.78 630.67,157.62 632.00,158.50C633.33,159.38 634.85,160.32 636.00,161.20C637.15,162.08 638.07,162.92 638.90,163.80C639.73,164.68 640.57,165.62 641.00,166.50C641.43,167.38 641.57,168.23 641.50,169.10C641.43,169.97 641.18,170.60 640.60,171.70C640.02,172.80 638.90,174.37 638.00,175.70C637.10,177.03 636.15,178.38 635.20,179.70C634.25,181.02 633.23,182.28 632.30,183.60C631.37,184.92 630.42,186.27 629.60,187.60C628.78,188.93 628.05,190.28 627.40,191.60C626.75,192.92 626.17,194.18 625.70,195.50C625.23,196.82 624.93,198.18 624.60,199.50C624.27,200.82 623.90,202.35 623.70,203.40C623.50,204.45 623.71,205.40 623.42,205.80C623.13,206.20 622.27,206.20 621.98,205.80C621.69,205.40 621.90,204.45 621.70,203.40C621.50,202.35 621.13,200.82 620.80,199.50C620.47,198.18 620.17,196.82 619.70,195.50C619.23,194.18 618.65,192.92 618.00,191.60C617.35,190.28 616.62,188.93 615.80,187.60C614.98,186.27 614.03,184.92 613.10,183.60C612.17,182.28 611.15,181.02 610.20,179.70C609.25,178.38 608.30,177.03 607.40,175.70C606.50,174.37 605.38,172.80 604.80,171.70C604.22,170.60 603.97,169.97 603.90,169.10C603.83,168.23 603.97,167.38 604.40,166.50C604.83,165.62 605.67,164.68 606.50,163.80C607.33,162.92 608.25,162.08 609.40,161.20C610.55,160.32 612.07,159.38 613.40,158.50C614.73,157.62 616.30,156.78 617.40,155.90C618.50,155.02 619.25,154.08 620.00,153.20C620.75,152.32 621.47,151.58 621.92,150.60C622.37,149.62 622.44,147.30 622.70,147.30Z" fill="#cb4259" stroke="#30242a" stroke-width="1.25" stroke-linejoin="round"/>
<g fill="#c4324f" fill-opacity="0.68" stroke="#fff" stroke-opacity="0.88" stroke-width="0.78"><circle cx="622.4" cy="157.2" r="2.5"/><circle cx="624.4" cy="158.5" r="2.5"/><circle cx="619.1" cy="160.5" r="2.5"/><circle cx="623.7" cy="163.8" r="2.5"/><circle cx="617.8" cy="165.8" r="2.5"/><circle cx="627.0" cy="165.1" r="2.5"/><circle cx="624.4" cy="167.8" r="2.5"/><circle cx="618.5" cy="169.1" r="2.5"/><circle cx="628.4" cy="169.8" r="2.5"/><circle cx="621.8" cy="171.1" r="2.5"/><circle cx="617.8" cy="173.7" r="2.5"/><circle cx="625.7" cy="173.7" r="2.5"/><circle cx="619.1" cy="176.4" r="2.5"/><circle cx="623.1" cy="177.0" r="2.5"/><circle cx="624.4" cy="180.3" r="2.5"/><circle cx="627.7" cy="181.6" r="2.5"/><circle cx="617.8" cy="183.6" r="2.5"/><circle cx="624.4" cy="185.6" r="2.5"/><circle cx="619.8" cy="190.4" r="2.5"/><circle cx="619.2" cy="199.3" r="2.5"/></g>
<path d="M542.30,53.80 V206.55 H651.90" fill="none" stroke="#111" stroke-width="2.7" stroke-linejoin="miter"/>
<rect x="542.80" y="98.45" width="4.5" height="2.5" fill="#111"/>
<rect x="542.80" y="144.65" width="4.5" height="2.5" fill="#111"/>
<rect x="542.80" y="191.85" width="4.5" height="2.5" fill="#111"/>
<rect x="568.90" y="60.10" width="55.00" height="2.8" fill="#111"/>
<path d="M720.60,61.50C720.68,61.50 720.67,60.65 720.84,62.10C721.01,63.55 721.22,67.48 721.60,70.20C721.98,72.92 722.62,76.02 723.10,78.40C723.58,80.78 723.93,82.45 724.50,84.50C725.07,86.55 725.72,88.65 726.50,90.70C727.28,92.75 728.17,94.77 729.20,96.80C730.23,98.83 731.52,100.87 732.70,102.90C733.88,104.93 735.28,106.97 736.30,109.00C737.32,111.03 738.28,113.23 738.80,115.10C739.32,116.97 739.47,118.50 739.40,120.20C739.33,121.90 739.08,123.42 738.40,125.30C737.72,127.18 736.60,129.45 735.30,131.50C734.00,133.55 732.13,135.57 730.60,137.60C729.07,139.63 727.47,141.67 726.10,143.70C724.73,145.73 723.28,147.75 722.40,149.80C721.52,151.85 721.14,154.72 720.84,156.00C720.54,157.28 720.68,157.50 720.60,157.50C720.52,157.50 720.66,157.28 720.36,156.00C720.06,154.72 719.68,151.85 718.80,149.80C717.92,147.75 716.47,145.73 715.10,143.70C713.73,141.67 712.13,139.63 710.60,137.60C709.07,135.57 707.20,133.55 705.90,131.50C704.60,129.45 703.48,127.18 702.80,125.30C702.12,123.42 701.87,121.90 701.80,120.20C701.73,118.50 701.88,116.97 702.40,115.10C702.92,113.23 703.88,111.03 704.90,109.00C705.92,106.97 707.32,104.93 708.50,102.90C709.68,100.87 710.97,98.83 712.00,96.80C713.03,94.77 713.92,92.75 714.70,90.70C715.48,88.65 716.13,86.55 716.70,84.50C717.27,82.45 717.62,80.78 718.10,78.40C718.58,76.02 719.22,72.92 719.60,70.20C719.98,67.48 720.19,63.55 720.36,62.10C720.53,60.65 720.52,61.50 720.60,61.50Z" fill="#7b1a8c" stroke="#30242a" stroke-width="1.25" stroke-linejoin="round"/>
<g fill="#7b1a8c" fill-opacity="0.68" stroke="#fff" stroke-opacity="0.88" stroke-width="0.78"><circle cx="724.3" cy="75.7" r="2.5"/><circle cx="717.2" cy="86.5" r="2.5"/><circle cx="715.8" cy="94.9" r="2.5"/><circle cx="723.9" cy="99.6" r="2.5"/><circle cx="721.7" cy="103.8" r="2.5"/><circle cx="718.9" cy="107.2" r="2.5"/><circle cx="725.1" cy="108.0" r="2.5"/><circle cx="714.5" cy="110.0" r="2.5"/><circle cx="723.9" cy="112.2" r="2.5"/><circle cx="716.7" cy="116.4" r="2.5"/><circle cx="715.8" cy="120.6" r="2.5"/><circle cx="725.6" cy="119.8" r="2.5"/><circle cx="717.5" cy="122.3" r="2.5"/><circle cx="721.7" cy="124.0" r="2.5"/><circle cx="718.4" cy="126.5" r="2.5"/><circle cx="719.2" cy="130.7" r="2.5"/><circle cx="723.4" cy="130.7" r="2.5"/><circle cx="722.2" cy="138.3" r="2.5"/><circle cx="718.9" cy="141.3" r="2.5"/></g>
<path d="M774.80,142.10C774.96,142.10 775.05,145.48 775.28,147.00C775.51,148.52 775.81,149.80 776.20,151.20C776.59,152.60 776.98,154.00 777.60,155.40C778.22,156.80 778.93,158.32 779.90,159.60C780.87,160.88 782.23,162.05 783.40,163.10C784.57,164.15 785.73,164.97 786.90,165.90C788.07,166.83 789.47,167.77 790.40,168.70C791.33,169.63 792.03,170.57 792.50,171.50C792.97,172.43 793.27,173.37 793.20,174.30C793.13,175.23 792.80,176.05 792.10,177.10C791.40,178.15 790.17,179.43 789.00,180.60C787.83,181.77 786.27,182.93 785.10,184.10C783.93,185.27 782.93,186.32 782.00,187.60C781.07,188.88 780.23,190.40 779.50,191.80C778.77,193.20 778.18,194.60 777.60,196.00C777.02,197.40 776.39,198.92 776.00,200.20C775.61,201.48 775.48,202.77 775.28,203.70C775.08,204.63 774.96,205.80 774.80,205.80C774.64,205.80 774.52,204.63 774.32,203.70C774.12,202.77 773.99,201.48 773.60,200.20C773.21,198.92 772.58,197.40 772.00,196.00C771.42,194.60 770.83,193.20 770.10,191.80C769.37,190.40 768.53,188.88 767.60,187.60C766.67,186.32 765.67,185.27 764.50,184.10C763.33,182.93 761.77,181.77 760.60,180.60C759.43,179.43 758.20,178.15 757.50,177.10C756.80,176.05 756.47,175.23 756.40,174.30C756.33,173.37 756.63,172.43 757.10,171.50C757.57,170.57 758.27,169.63 759.20,168.70C760.13,167.77 761.53,166.83 762.70,165.90C763.87,164.97 765.03,164.15 766.20,163.10C767.37,162.05 768.73,160.88 769.70,159.60C770.67,158.32 771.38,156.80 772.00,155.40C772.62,154.00 773.01,152.60 773.40,151.20C773.79,149.80 774.09,148.52 774.32,147.00C774.55,145.48 774.64,142.10 774.80,142.10Z" fill="#cb4259" stroke="#30242a" stroke-width="1.25" stroke-linejoin="round"/>
<g fill="#c4324f" fill-opacity="0.68" stroke="#fff" stroke-opacity="0.88" stroke-width="0.78"><circle cx="774.7" cy="152.9" r="2.5"/><circle cx="779.5" cy="155.7" r="2.5"/><circle cx="777.8" cy="162.1" r="2.5"/><circle cx="771.9" cy="164.1" r="2.5"/><circle cx="777.1" cy="165.9" r="2.5"/><circle cx="770.8" cy="169.1" r="2.5"/><circle cx="775.0" cy="169.1" r="2.5"/><circle cx="779.2" cy="173.6" r="2.5"/><circle cx="770.1" cy="174.7" r="2.5"/><circle cx="774.3" cy="175.7" r="2.5"/><circle cx="775.7" cy="179.2" r="2.5"/><circle cx="768.3" cy="180.6" r="2.5"/><circle cx="772.9" cy="180.9" r="2.5"/><circle cx="777.1" cy="184.1" r="2.5"/><circle cx="772.2" cy="185.5" r="2.5"/><circle cx="775.7" cy="189.3" r="2.5"/><circle cx="777.1" cy="192.9" r="2.5"/><circle cx="775.0" cy="193.9" r="2.5"/><circle cx="771.5" cy="199.5" r="2.5"/></g>
<path d="M693.60,53.80 V206.55 H803.20" fill="none" stroke="#111" stroke-width="2.7" stroke-linejoin="miter"/>
<rect x="694.10" y="64.45" width="4.5" height="2.5" fill="#111"/>
<rect x="694.10" y="107.65" width="4.5" height="2.5" fill="#111"/>
<rect x="694.10" y="151.15" width="4.5" height="2.5" fill="#111"/>
<rect x="694.10" y="194.85" width="4.5" height="2.5" fill="#111"/>
<rect x="720.20" y="60.10" width="55.00" height="2.8" fill="#111"/>
<path d="M115.40,295.80C115.52,295.80 115.70,293.97 115.76,300.00C115.82,306.03 115.73,326.17 115.76,332.00C115.79,337.83 115.86,334.07 115.94,335.00C116.02,335.93 115.66,336.47 116.24,337.60C116.82,338.73 118.37,340.40 119.40,341.80C120.43,343.20 120.97,343.90 122.40,346.00C123.83,348.10 126.42,351.60 128.00,354.40C129.58,357.20 131.00,360.62 131.90,362.80C132.80,364.98 133.05,366.10 133.40,367.50C133.75,368.90 134.00,369.87 134.00,371.20C134.00,372.53 133.80,374.10 133.40,375.50C133.00,376.90 132.60,377.52 131.60,379.60C130.60,381.68 129.03,385.20 127.40,388.00C125.77,390.80 123.30,394.07 121.80,396.40C120.30,398.73 119.23,400.40 118.40,402.00C117.57,403.60 117.20,404.67 116.80,406.00C116.40,407.33 116.17,408.67 116.00,410.00C115.83,411.33 115.80,411.67 115.76,414.00C115.72,416.33 115.82,422.17 115.76,424.00C115.70,425.83 115.52,425.00 115.40,425.00C115.28,425.00 115.10,425.83 115.04,424.00C114.98,422.17 115.08,416.33 115.04,414.00C115.00,411.67 114.97,411.33 114.80,410.00C114.63,408.67 114.40,407.33 114.00,406.00C113.60,404.67 113.23,403.60 112.40,402.00C111.57,400.40 110.50,398.73 109.00,396.40C107.50,394.07 105.03,390.80 103.40,388.00C101.77,385.20 100.20,381.68 99.20,379.60C98.20,377.52 97.80,376.90 97.40,375.50C97.00,374.10 96.80,372.53 96.80,371.20C96.80,369.87 97.05,368.90 97.40,367.50C97.75,366.10 98.00,364.98 98.90,362.80C99.80,360.62 101.22,357.20 102.80,354.40C104.38,351.60 106.97,348.10 108.40,346.00C109.83,343.90 110.37,343.20 111.40,341.80C112.43,340.40 113.98,338.73 114.56,337.60C115.14,336.47 114.78,335.93 114.86,335.00C114.94,334.07 115.01,337.83 115.04,332.00C115.07,326.17 114.98,306.03 115.04,300.00C115.10,293.97 115.28,295.80 115.40,295.80Z" fill="#7b1a8c" stroke="#30242a" stroke-width="1.25" stroke-linejoin="round"/>
<g fill="#7b1a8c" fill-opacity="0.62" stroke="#fff" stroke-opacity="0.80" stroke-width="0.60"><circle cx="113.5" cy="371.5" r="2.5"/><circle cx="113.0" cy="407.3" r="2.5"/><circle cx="119.8" cy="409.2" r="2.5"/><circle cx="116.8" cy="374.8" r="2.5"/><circle cx="112.6" cy="378.4" r="2.5"/><circle cx="115.1" cy="372.4" r="2.5"/><circle cx="114.2" cy="360.0" r="2.5"/><circle cx="115.3" cy="373.9" r="2.5"/><circle cx="119.9" cy="396.3" r="2.5"/><circle cx="117.9" cy="389.5" r="2.5"/><circle cx="118.8" cy="408.5" r="2.5"/><circle cx="113.6" cy="378.1" r="2.5"/><circle cx="113.5" cy="345.6" r="2.5"/><circle cx="110.9" cy="350.3" r="2.5"/><circle cx="112.2" cy="402.0" r="2.5"/><circle cx="110.8" cy="374.3" r="2.5"/><circle cx="110.5" cy="358.2" r="2.5"/><circle cx="120.5" cy="356.4" r="2.5"/><circle cx="119.5" cy="367.9" r="2.5"/><circle cx="111.0" cy="390.4" r="2.5"/><circle cx="111.1" cy="372.7" r="2.5"/><circle cx="114.8" cy="341.0" r="2.5"/><circle cx="112.6" cy="374.3" r="2.5"/><circle cx="117.2" cy="348.7" r="2.5"/><circle cx="118.0" cy="388.6" r="2.5"/><circle cx="111.4" cy="391.8" r="2.5"/><circle cx="119.0" cy="348.6" r="2.5"/><circle cx="114.1" cy="366.6" r="2.5"/><circle cx="117.9" cy="400.1" r="2.5"/><circle cx="112.7" cy="379.0" r="2.5"/><circle cx="111.7" cy="389.0" r="2.5"/><circle cx="113.6" cy="394.6" r="2.5"/><circle cx="114.3" cy="355.6" r="2.5"/><circle cx="112.6" cy="399.0" r="2.5"/><circle cx="118.7" cy="372.8" r="2.5"/><circle cx="111.2" cy="337.2" r="2.5"/><circle cx="119.0" cy="335.7" r="2.5"/><circle cx="119.8" cy="380.1" r="2.5"/><circle cx="111.4" cy="391.0" r="2.5"/><circle cx="112.1" cy="378.4" r="2.5"/><circle cx="120.0" cy="401.4" r="2.5"/><circle cx="114.0" cy="369.3" r="2.5"/><circle cx="112.9" cy="389.3" r="2.5"/><circle cx="118.3" cy="356.9" r="2.5"/><circle cx="116.4" cy="383.4" r="2.5"/><circle cx="116.7" cy="370.7" r="2.5"/><circle cx="111.6" cy="378.1" r="2.5"/><circle cx="112.3" cy="393.7" r="2.5"/><circle cx="117.0" cy="373.1" r="2.5"/><circle cx="112.3" cy="402.4" r="2.5"/><circle cx="117.3" cy="392.7" r="2.5"/><circle cx="112.1" cy="375.3" r="2.5"/><circle cx="118.5" cy="368.6" r="2.5"/><circle cx="115.9" cy="387.1" r="2.5"/><circle cx="114.3" cy="383.0" r="2.5"/><circle cx="115.9" cy="377.8" r="2.5"/><circle cx="111.8" cy="368.1" r="2.5"/><circle cx="117.5" cy="367.0" r="2.5"/><circle cx="113.4" cy="359.5" r="2.5"/><circle cx="120.2" cy="383.2" r="2.5"/><circle cx="113.9" cy="363.6" r="2.5"/><circle cx="114.5" cy="399.1" r="2.5"/><circle cx="117.8" cy="364.9" r="2.5"/><circle cx="112.3" cy="384.5" r="2.5"/><circle cx="114.6" cy="375.7" r="2.5"/><circle cx="119.5" cy="383.2" r="2.5"/><circle cx="115.0" cy="354.6" r="2.5"/><circle cx="115.9" cy="375.9" r="2.5"/><circle cx="116.9" cy="377.1" r="2.5"/><circle cx="116.7" cy="381.7" r="2.5"/><circle cx="114.0" cy="369.1" r="2.5"/><circle cx="113.1" cy="362.2" r="2.5"/><circle cx="115.6" cy="373.7" r="2.5"/><circle cx="115.3" cy="383.0" r="2.5"/><circle cx="118.6" cy="369.5" r="2.5"/><circle cx="111.4" cy="387.6" r="2.5"/><circle cx="120.1" cy="371.1" r="2.5"/><circle cx="110.7" cy="397.8" r="2.5"/><circle cx="119.9" cy="370.3" r="2.5"/><circle cx="116.7" cy="339.3" r="2.5"/><circle cx="118.8" cy="403.5" r="2.5"/><circle cx="112.5" cy="393.7" r="2.5"/><circle cx="114.4" cy="405.2" r="2.5"/><circle cx="112.0" cy="396.5" r="2.5"/><circle cx="112.4" cy="341.5" r="2.5"/><circle cx="114.2" cy="353.5" r="2.5"/><circle cx="111.4" cy="388.9" r="2.5"/><circle cx="119.6" cy="374.6" r="2.5"/><circle cx="110.5" cy="407.7" r="2.5"/><circle cx="110.5" cy="341.3" r="2.5"/><circle cx="119.0" cy="360.5" r="2.5"/><circle cx="115.9" cy="395.0" r="2.5"/><circle cx="116.7" cy="393.2" r="2.5"/><circle cx="116.3" cy="366.4" r="2.5"/><circle cx="114.6" cy="394.6" r="2.5"/><circle cx="114.7" cy="361.6" r="2.5"/><circle cx="110.3" cy="354.8" r="2.5"/><circle cx="112.6" cy="356.1" r="2.5"/><circle cx="118.2" cy="357.5" r="2.5"/><circle cx="112.0" cy="378.4" r="2.5"/><circle cx="115.1" cy="351.2" r="2.5"/><circle cx="114.7" cy="382.6" r="2.5"/><circle cx="111.1" cy="380.9" r="2.5"/><circle cx="110.5" cy="350.6" r="2.5"/><circle cx="116.8" cy="382.9" r="2.5"/><circle cx="118.3" cy="403.7" r="2.5"/><circle cx="115.5" cy="390.9" r="2.5"/><circle cx="114.1" cy="397.4" r="2.5"/><circle cx="120.2" cy="382.3" r="2.5"/><circle cx="120.7" cy="401.2" r="2.5"/><circle cx="117.9" cy="405.3" r="2.5"/><circle cx="120.5" cy="379.5" r="2.5"/><circle cx="115.3" cy="361.4" r="2.5"/><circle cx="111.9" cy="361.4" r="2.5"/><circle cx="110.8" cy="385.6" r="2.5"/><circle cx="111.8" cy="353.1" r="2.5"/><circle cx="119.6" cy="402.4" r="2.5"/><circle cx="111.6" cy="368.0" r="2.5"/><circle cx="112.3" cy="373.3" r="2.5"/><circle cx="113.5" cy="372.0" r="2.5"/><circle cx="110.5" cy="398.9" r="2.5"/><circle cx="120.0" cy="379.2" r="2.5"/><circle cx="117.3" cy="385.3" r="2.5"/><circle cx="118.4" cy="384.1" r="2.5"/><circle cx="111.3" cy="366.2" r="2.5"/><circle cx="113.9" cy="344.7" r="2.5"/><circle cx="119.4" cy="368.3" r="2.5"/><circle cx="119.5" cy="348.0" r="2.5"/><circle cx="111.2" cy="364.6" r="2.5"/><circle cx="114.3" cy="403.6" r="2.5"/><circle cx="118.6" cy="372.7" r="2.5"/><circle cx="116.2" cy="368.1" r="2.5"/><circle cx="114.8" cy="351.2" r="2.5"/><circle cx="112.0" cy="401.5" r="2.5"/><circle cx="118.8" cy="373.7" r="2.5"/><circle cx="112.8" cy="367.4" r="2.5"/><circle cx="116.3" cy="335.3" r="2.5"/><circle cx="110.1" cy="364.6" r="2.5"/><circle cx="110.5" cy="358.4" r="2.5"/><circle cx="114.7" cy="391.2" r="2.5"/><circle cx="115.5" cy="397.4" r="2.5"/><circle cx="112.5" cy="382.9" r="2.5"/><circle cx="117.0" cy="367.2" r="2.5"/><circle cx="113.9" cy="375.5" r="2.5"/><circle cx="111.2" cy="374.2" r="2.5"/><circle cx="116.3" cy="364.7" r="2.5"/><circle cx="116.3" cy="385.7" r="2.5"/><circle cx="115.1" cy="382.3" r="2.5"/><circle cx="111.5" cy="402.2" r="2.5"/><circle cx="111.7" cy="388.5" r="2.5"/><circle cx="111.1" cy="367.9" r="2.5"/><circle cx="118.4" cy="346.5" r="2.5"/><circle cx="114.4" cy="341.5" r="2.5"/><circle cx="116.9" cy="373.7" r="2.5"/><circle cx="116.1" cy="377.2" r="2.5"/><circle cx="114.8" cy="356.2" r="2.5"/><circle cx="120.0" cy="398.4" r="2.5"/><circle cx="119.7" cy="372.4" r="2.5"/><circle cx="110.6" cy="358.2" r="2.5"/><circle cx="112.6" cy="353.0" r="2.5"/><circle cx="110.7" cy="369.8" r="2.5"/><circle cx="115.9" cy="374.6" r="2.5"/><circle cx="120.1" cy="370.7" r="2.5"/><circle cx="116.5" cy="382.8" r="2.5"/><circle cx="115.5" cy="384.9" r="2.5"/><circle cx="112.0" cy="349.8" r="2.5"/><circle cx="113.4" cy="344.1" r="2.5"/><circle cx="119.5" cy="371.9" r="2.5"/><circle cx="118.4" cy="380.3" r="2.5"/><circle cx="119.1" cy="373.5" r="2.5"/><circle cx="118.0" cy="371.7" r="2.5"/><circle cx="114.9" cy="340.3" r="2.5"/><circle cx="112.5" cy="381.5" r="2.5"/><circle cx="110.5" cy="386.0" r="2.5"/><circle cx="113.7" cy="383.4" r="2.5"/><circle cx="119.1" cy="373.9" r="2.5"/><circle cx="117.6" cy="341.6" r="2.5"/><circle cx="114.7" cy="371.3" r="2.5"/><circle cx="118.5" cy="400.5" r="2.5"/><circle cx="116.9" cy="357.7" r="2.5"/><circle cx="120.3" cy="371.6" r="2.5"/><circle cx="110.3" cy="382.9" r="2.5"/><circle cx="118.0" cy="373.0" r="2.5"/><circle cx="120.1" cy="389.4" r="2.5"/><circle cx="119.4" cy="373.5" r="2.5"/><circle cx="113.6" cy="355.3" r="2.5"/><circle cx="116.8" cy="377.1" r="2.5"/><circle cx="120.5" cy="363.1" r="2.5"/><circle cx="115.1" cy="344.9" r="2.5"/><circle cx="119.2" cy="391.4" r="2.5"/><circle cx="114.7" cy="346.5" r="2.5"/><circle cx="113.4" cy="369.7" r="2.5"/><circle cx="112.3" cy="347.1" r="2.5"/><circle cx="119.8" cy="367.9" r="2.5"/><circle cx="111.6" cy="368.1" r="2.5"/><circle cx="119.9" cy="383.8" r="2.5"/><circle cx="113.8" cy="375.7" r="2.5"/><circle cx="110.5" cy="377.2" r="2.5"/><circle cx="117.4" cy="377.9" r="2.5"/><circle cx="117.9" cy="352.4" r="2.5"/><circle cx="110.8" cy="349.8" r="2.5"/><circle cx="118.8" cy="357.2" r="2.5"/><circle cx="118.8" cy="363.3" r="2.5"/><circle cx="119.3" cy="380.0" r="2.5"/><circle cx="119.8" cy="369.1" r="2.5"/><circle cx="112.3" cy="383.4" r="2.5"/><circle cx="111.3" cy="370.6" r="2.5"/><circle cx="118.7" cy="382.7" r="2.5"/><circle cx="116.8" cy="347.9" r="2.5"/><circle cx="113.1" cy="344.7" r="2.5"/><circle cx="118.1" cy="381.7" r="2.5"/><circle cx="112.3" cy="379.6" r="2.5"/><circle cx="110.3" cy="364.7" r="2.5"/><circle cx="112.8" cy="394.0" r="2.5"/><circle cx="114.0" cy="367.2" r="2.5"/><circle cx="113.5" cy="406.6" r="2.5"/><circle cx="119.1" cy="398.2" r="2.5"/><circle cx="116.7" cy="368.4" r="2.5"/><circle cx="114.7" cy="395.3" r="2.5"/><circle cx="118.3" cy="378.2" r="2.5"/><circle cx="115.8" cy="355.3" r="2.5"/><circle cx="112.4" cy="400.9" r="2.5"/><circle cx="118.8" cy="379.9" r="2.5"/><circle cx="111.9" cy="367.0" r="2.5"/><circle cx="118.2" cy="388.1" r="2.5"/><circle cx="120.5" cy="374.1" r="2.5"/><circle cx="115.3" cy="398.4" r="2.5"/><circle cx="118.5" cy="374.7" r="2.5"/><circle cx="113.8" cy="383.8" r="2.5"/><circle cx="118.9" cy="396.5" r="2.5"/><circle cx="113.1" cy="370.7" r="2.5"/><circle cx="115.4" cy="381.2" r="2.5"/><circle cx="111.3" cy="405.8" r="2.5"/><circle cx="118.5" cy="368.4" r="2.5"/><circle cx="117.5" cy="367.5" r="2.5"/><circle cx="113.9" cy="380.8" r="2.5"/><circle cx="114.4" cy="345.3" r="2.5"/><circle cx="111.0" cy="339.2" r="2.5"/><circle cx="119.5" cy="401.2" r="2.5"/><circle cx="112.9" cy="388.1" r="2.5"/><circle cx="119.7" cy="376.2" r="2.5"/><circle cx="119.5" cy="353.5" r="2.5"/><circle cx="112.6" cy="373.8" r="2.5"/><circle cx="118.1" cy="348.9" r="2.5"/><circle cx="118.1" cy="380.3" r="2.5"/><circle cx="113.6" cy="362.2" r="2.5"/><circle cx="111.7" cy="358.5" r="2.5"/><circle cx="118.0" cy="391.1" r="2.5"/><circle cx="111.9" cy="348.2" r="2.5"/><circle cx="116.2" cy="340.5" r="2.5"/><circle cx="111.4" cy="387.6" r="2.5"/><circle cx="112.6" cy="384.3" r="2.5"/><circle cx="117.6" cy="380.4" r="2.5"/><circle cx="119.0" cy="390.6" r="2.5"/><circle cx="112.7" cy="380.9" r="2.5"/><circle cx="113.6" cy="384.1" r="2.5"/><circle cx="113.6" cy="361.7" r="2.5"/><circle cx="112.1" cy="372.3" r="2.5"/><circle cx="111.2" cy="407.5" r="2.5"/><circle cx="120.3" cy="368.7" r="2.5"/><circle cx="120.5" cy="390.6" r="2.5"/><circle cx="118.5" cy="386.3" r="2.5"/><circle cx="112.2" cy="371.6" r="2.5"/><circle cx="116.9" cy="351.7" r="2.5"/><circle cx="114.2" cy="385.2" r="2.5"/><circle cx="110.5" cy="382.9" r="2.5"/><circle cx="117.5" cy="344.1" r="2.5"/><circle cx="115.4" cy="396.0" r="2.5"/><circle cx="111.6" cy="358.2" r="2.5"/><circle cx="116.5" cy="356.7" r="2.5"/><circle cx="119.7" cy="345.5" r="2.5"/><circle cx="114.7" cy="393.5" r="2.5"/><circle cx="114.6" cy="342.8" r="2.5"/><circle cx="112.5" cy="358.3" r="2.5"/><circle cx="118.3" cy="366.5" r="2.5"/><circle cx="117.3" cy="361.3" r="2.5"/><circle cx="116.9" cy="334.9" r="2.5"/><circle cx="116.8" cy="356.6" r="2.5"/><circle cx="111.1" cy="379.2" r="2.5"/><circle cx="117.7" cy="341.9" r="2.5"/><circle cx="116.8" cy="391.8" r="2.5"/><circle cx="114.9" cy="374.0" r="2.5"/><circle cx="116.7" cy="396.0" r="2.5"/><circle cx="120.0" cy="347.5" r="2.5"/><circle cx="112.0" cy="391.0" r="2.5"/><circle cx="114.2" cy="353.4" r="2.5"/><circle cx="115.3" cy="343.9" r="2.5"/><circle cx="115.9" cy="379.8" r="2.5"/><circle cx="111.8" cy="373.1" r="2.5"/><circle cx="115.6" cy="383.9" r="2.5"/><circle cx="115.8" cy="396.1" r="2.5"/><circle cx="117.7" cy="390.3" r="2.5"/><circle cx="118.9" cy="344.1" r="2.5"/><circle cx="115.6" cy="371.7" r="2.5"/><circle cx="112.3" cy="401.3" r="2.5"/><circle cx="118.2" cy="365.6" r="2.5"/><circle cx="111.4" cy="354.8" r="2.5"/><circle cx="110.7" cy="393.6" r="2.5"/><circle cx="113.0" cy="372.1" r="2.5"/><circle cx="114.5" cy="371.2" r="2.5"/><circle cx="119.6" cy="309.2" r="2.5"/><circle cx="117.3" cy="316.2" r="2.5"/><circle cx="114.0" cy="322.0" r="2.5"/><circle cx="117.5" cy="325.5" r="2.5"/><circle cx="115.0" cy="329.0" r="2.5"/><circle cx="111.5" cy="331.5" r="2.5"/><circle cx="119.0" cy="331.0" r="2.5"/><circle cx="114.5" cy="334.0" r="2.5"/><circle cx="112.0" cy="412.5" r="2.5"/><circle cx="116.5" cy="413.5" r="2.5"/><circle cx="113.5" cy="416.5" r="2.5"/><circle cx="117.0" cy="418.0" r="2.5"/><circle cx="114.5" cy="420.5" r="2.5"/></g>
<path d="M169.60,336.20C169.72,336.20 169.90,335.03 169.96,340.00C170.02,344.97 169.92,361.17 169.96,366.00C170.00,370.83 169.99,368.17 170.20,369.00C170.41,369.83 170.23,370.17 171.20,371.00C172.17,371.83 174.37,372.83 176.00,374.00C177.63,375.17 179.50,376.67 181.00,378.00C182.50,379.33 183.87,380.67 185.00,382.00C186.13,383.33 187.23,384.93 187.80,386.00C188.37,387.07 188.45,387.57 188.40,388.40C188.35,389.23 187.90,390.07 187.50,391.00C187.10,391.93 186.92,392.50 186.00,394.00C185.08,395.50 183.33,398.17 182.00,400.00C180.67,401.83 179.33,403.50 178.00,405.00C176.67,406.50 175.08,407.83 174.00,409.00C172.92,410.17 172.13,411.17 171.50,412.00C170.87,412.83 170.46,413.17 170.20,414.00C169.94,414.83 170.00,415.33 169.96,417.00C169.92,418.67 170.02,422.67 169.96,424.00C169.90,425.33 169.72,425.00 169.60,425.00C169.48,425.00 169.30,425.33 169.24,424.00C169.18,422.67 169.28,418.67 169.24,417.00C169.20,415.33 169.26,414.83 169.00,414.00C168.74,413.17 168.33,412.83 167.70,412.00C167.07,411.17 166.28,410.17 165.20,409.00C164.12,407.83 162.53,406.50 161.20,405.00C159.87,403.50 158.53,401.83 157.20,400.00C155.87,398.17 154.12,395.50 153.20,394.00C152.28,392.50 152.10,391.93 151.70,391.00C151.30,390.07 150.85,389.23 150.80,388.40C150.75,387.57 150.83,387.07 151.40,386.00C151.97,384.93 153.07,383.33 154.20,382.00C155.33,380.67 156.70,379.33 158.20,378.00C159.70,376.67 161.57,375.17 163.20,374.00C164.83,372.83 167.03,371.83 168.00,371.00C168.97,370.17 168.79,369.83 169.00,369.00C169.21,368.17 169.20,370.83 169.24,366.00C169.28,361.17 169.18,344.97 169.24,340.00C169.30,335.03 169.48,336.20 169.60,336.20Z" fill="#d9474f" stroke="#30242a" stroke-width="1.25" stroke-linejoin="round"/>
<g fill="#d23a46" fill-opacity="0.62" stroke="#fff" stroke-opacity="0.80" stroke-width="0.60"><circle cx="168.7" cy="394.2" r="2.5"/><circle cx="166.9" cy="389.3" r="2.5"/><circle cx="166.4" cy="382.0" r="2.5"/><circle cx="169.9" cy="391.4" r="2.5"/><circle cx="168.3" cy="397.4" r="2.5"/><circle cx="166.3" cy="415.1" r="2.5"/><circle cx="173.2" cy="407.9" r="2.5"/><circle cx="171.2" cy="408.7" r="2.5"/><circle cx="166.4" cy="377.2" r="2.5"/><circle cx="175.0" cy="396.1" r="2.5"/><circle cx="173.3" cy="382.2" r="2.5"/><circle cx="173.3" cy="407.2" r="2.5"/><circle cx="170.2" cy="382.8" r="2.5"/><circle cx="165.3" cy="395.1" r="2.5"/><circle cx="173.7" cy="398.9" r="2.5"/><circle cx="166.9" cy="382.9" r="2.5"/><circle cx="168.7" cy="386.2" r="2.5"/><circle cx="166.0" cy="399.7" r="2.5"/><circle cx="167.1" cy="413.0" r="2.5"/><circle cx="166.6" cy="393.3" r="2.5"/><circle cx="168.8" cy="388.4" r="2.5"/><circle cx="171.2" cy="406.5" r="2.5"/><circle cx="174.6" cy="386.6" r="2.5"/><circle cx="173.7" cy="383.0" r="2.5"/><circle cx="174.3" cy="415.0" r="2.5"/><circle cx="172.9" cy="401.2" r="2.5"/><circle cx="171.1" cy="408.0" r="2.5"/><circle cx="164.0" cy="411.2" r="2.5"/><circle cx="171.4" cy="395.2" r="2.5"/><circle cx="165.5" cy="393.0" r="2.5"/><circle cx="166.5" cy="398.8" r="2.5"/><circle cx="165.6" cy="394.9" r="2.5"/><circle cx="174.3" cy="381.6" r="2.5"/><circle cx="174.1" cy="395.0" r="2.5"/><circle cx="170.9" cy="385.7" r="2.5"/><circle cx="174.2" cy="396.6" r="2.5"/><circle cx="172.9" cy="374.8" r="2.5"/><circle cx="171.8" cy="397.4" r="2.5"/><circle cx="170.0" cy="386.0" r="2.5"/><circle cx="174.0" cy="392.3" r="2.5"/><circle cx="170.2" cy="379.6" r="2.5"/><circle cx="165.4" cy="392.2" r="2.5"/><circle cx="169.5" cy="402.1" r="2.5"/><circle cx="165.5" cy="406.1" r="2.5"/><circle cx="169.5" cy="398.0" r="2.5"/><circle cx="173.8" cy="377.4" r="2.5"/><circle cx="163.9" cy="393.2" r="2.5"/><circle cx="170.3" cy="400.6" r="2.5"/><circle cx="171.5" cy="381.2" r="2.5"/><circle cx="168.7" cy="399.5" r="2.5"/><circle cx="174.9" cy="382.8" r="2.5"/><circle cx="171.2" cy="408.8" r="2.5"/><circle cx="164.1" cy="401.1" r="2.5"/><circle cx="174.6" cy="378.4" r="2.5"/><circle cx="167.6" cy="381.0" r="2.5"/><circle cx="169.4" cy="407.8" r="2.5"/><circle cx="174.2" cy="391.3" r="2.5"/><circle cx="171.1" cy="412.4" r="2.5"/><circle cx="167.7" cy="397.2" r="2.5"/><circle cx="169.3" cy="400.7" r="2.5"/><circle cx="169.9" cy="383.9" r="2.5"/><circle cx="168.8" cy="394.1" r="2.5"/><circle cx="168.7" cy="384.5" r="2.5"/><circle cx="167.2" cy="370.9" r="2.5"/><circle cx="173.4" cy="385.2" r="2.5"/><circle cx="167.0" cy="380.8" r="2.5"/><circle cx="169.7" cy="401.4" r="2.5"/><circle cx="173.0" cy="411.0" r="2.5"/><circle cx="167.6" cy="390.1" r="2.5"/><circle cx="170.6" cy="388.7" r="2.5"/><circle cx="171.2" cy="402.6" r="2.5"/><circle cx="172.2" cy="393.8" r="2.5"/><circle cx="174.1" cy="389.5" r="2.5"/><circle cx="167.3" cy="389.2" r="2.5"/><circle cx="163.9" cy="391.9" r="2.5"/><circle cx="170.9" cy="403.4" r="2.5"/><circle cx="174.4" cy="381.0" r="2.5"/><circle cx="170.9" cy="374.5" r="2.5"/><circle cx="171.9" cy="380.0" r="2.5"/><circle cx="170.7" cy="381.3" r="2.5"/><circle cx="171.5" cy="389.4" r="2.5"/><circle cx="169.1" cy="385.2" r="2.5"/><circle cx="165.9" cy="393.5" r="2.5"/><circle cx="164.2" cy="387.2" r="2.5"/><circle cx="171.4" cy="397.3" r="2.5"/><circle cx="172.9" cy="377.2" r="2.5"/><circle cx="170.3" cy="410.1" r="2.5"/><circle cx="168.7" cy="392.5" r="2.5"/><circle cx="167.5" cy="403.6" r="2.5"/><circle cx="174.6" cy="376.8" r="2.5"/><circle cx="164.4" cy="400.6" r="2.5"/><circle cx="165.2" cy="389.8" r="2.5"/><circle cx="173.2" cy="391.5" r="2.5"/><circle cx="169.0" cy="368.1" r="2.5"/><circle cx="164.0" cy="380.2" r="2.5"/><circle cx="174.7" cy="380.3" r="2.5"/><circle cx="175.2" cy="403.9" r="2.5"/><circle cx="165.0" cy="380.3" r="2.5"/><circle cx="171.3" cy="395.0" r="2.5"/><circle cx="164.0" cy="394.7" r="2.5"/><circle cx="163.9" cy="400.0" r="2.5"/><circle cx="175.0" cy="390.4" r="2.5"/><circle cx="164.8" cy="387.2" r="2.5"/><circle cx="164.0" cy="397.5" r="2.5"/><circle cx="172.1" cy="388.2" r="2.5"/><circle cx="166.0" cy="394.0" r="2.5"/><circle cx="164.4" cy="413.3" r="2.5"/><circle cx="173.7" cy="396.0" r="2.5"/><circle cx="172.3" cy="373.5" r="2.5"/><circle cx="172.0" cy="408.2" r="2.5"/><circle cx="169.1" cy="401.9" r="2.5"/><circle cx="175.0" cy="401.7" r="2.5"/><circle cx="172.1" cy="389.1" r="2.5"/><circle cx="171.3" cy="395.1" r="2.5"/><circle cx="173.3" cy="393.2" r="2.5"/><circle cx="172.3" cy="402.5" r="2.5"/><circle cx="165.7" cy="398.2" r="2.5"/><circle cx="164.5" cy="402.3" r="2.5"/><circle cx="168.1" cy="381.9" r="2.5"/><circle cx="171.7" cy="381.0" r="2.5"/><circle cx="165.5" cy="386.9" r="2.5"/><circle cx="171.3" cy="396.5" r="2.5"/><circle cx="171.1" cy="381.6" r="2.5"/><circle cx="172.9" cy="382.3" r="2.5"/><circle cx="174.8" cy="399.1" r="2.5"/><circle cx="167.2" cy="396.5" r="2.5"/><circle cx="164.5" cy="377.2" r="2.5"/><circle cx="173.4" cy="412.2" r="2.5"/><circle cx="167.7" cy="389.8" r="2.5"/><circle cx="173.4" cy="371.8" r="2.5"/><circle cx="168.8" cy="384.4" r="2.5"/><circle cx="174.1" cy="386.6" r="2.5"/><circle cx="170.8" cy="379.4" r="2.5"/><circle cx="174.2" cy="406.3" r="2.5"/><circle cx="163.8" cy="396.6" r="2.5"/><circle cx="166.9" cy="383.5" r="2.5"/><circle cx="173.3" cy="378.3" r="2.5"/><circle cx="174.1" cy="400.8" r="2.5"/><circle cx="173.2" cy="415.8" r="2.5"/><circle cx="173.9" cy="399.2" r="2.5"/><circle cx="173.7" cy="384.0" r="2.5"/><circle cx="173.2" cy="388.6" r="2.5"/><circle cx="167.8" cy="382.0" r="2.5"/><circle cx="173.0" cy="406.7" r="2.5"/><circle cx="166.1" cy="401.1" r="2.5"/><circle cx="166.5" cy="393.0" r="2.5"/><circle cx="169.2" cy="378.3" r="2.5"/><circle cx="166.2" cy="381.3" r="2.5"/><circle cx="173.0" cy="392.4" r="2.5"/><circle cx="169.1" cy="413.8" r="2.5"/><circle cx="172.8" cy="412.3" r="2.5"/><circle cx="166.5" cy="404.9" r="2.5"/><circle cx="174.1" cy="369.6" r="2.5"/><circle cx="169.9" cy="380.2" r="2.5"/><circle cx="166.0" cy="376.5" r="2.5"/><circle cx="166.0" cy="395.4" r="2.5"/><circle cx="168.0" cy="401.2" r="2.5"/><circle cx="170.3" cy="410.6" r="2.5"/><circle cx="165.5" cy="380.7" r="2.5"/><circle cx="164.3" cy="401.7" r="2.5"/><circle cx="165.0" cy="405.1" r="2.5"/><circle cx="171.1" cy="392.8" r="2.5"/><circle cx="170.7" cy="394.7" r="2.5"/><circle cx="167.8" cy="385.9" r="2.5"/><circle cx="164.2" cy="390.5" r="2.5"/><circle cx="175.3" cy="392.7" r="2.5"/><circle cx="170.4" cy="402.6" r="2.5"/><circle cx="166.8" cy="382.2" r="2.5"/><circle cx="174.8" cy="395.4" r="2.5"/><circle cx="172.7" cy="380.1" r="2.5"/><circle cx="166.7" cy="406.5" r="2.5"/><circle cx="165.9" cy="401.1" r="2.5"/><circle cx="164.8" cy="395.0" r="2.5"/><circle cx="173.9" cy="408.1" r="2.5"/><circle cx="169.1" cy="398.0" r="2.5"/><circle cx="164.5" cy="384.1" r="2.5"/><circle cx="165.2" cy="382.7" r="2.5"/><circle cx="174.9" cy="385.7" r="2.5"/><circle cx="171.2" cy="392.3" r="2.5"/><circle cx="174.9" cy="409.1" r="2.5"/><circle cx="169.0" cy="387.0" r="2.5"/><circle cx="165.7" cy="382.1" r="2.5"/><circle cx="166.4" cy="384.7" r="2.5"/><circle cx="167.9" cy="402.3" r="2.5"/><circle cx="174.3" cy="395.3" r="2.5"/><circle cx="164.3" cy="412.7" r="2.5"/><circle cx="172.9" cy="379.6" r="2.5"/><circle cx="175.2" cy="388.5" r="2.5"/><circle cx="164.4" cy="375.5" r="2.5"/><circle cx="174.7" cy="405.9" r="2.5"/><circle cx="171.7" cy="409.5" r="2.5"/><circle cx="172.6" cy="388.0" r="2.5"/><circle cx="165.0" cy="408.9" r="2.5"/><circle cx="165.2" cy="388.7" r="2.5"/><circle cx="169.4" cy="401.6" r="2.5"/><circle cx="165.5" cy="397.5" r="2.5"/><circle cx="171.7" cy="401.0" r="2.5"/><circle cx="166.1" cy="412.8" r="2.5"/><circle cx="164.2" cy="394.6" r="2.5"/><circle cx="174.6" cy="400.9" r="2.5"/><circle cx="173.9" cy="389.1" r="2.5"/><circle cx="169.0" cy="398.2" r="2.5"/><circle cx="164.9" cy="388.6" r="2.5"/><circle cx="171.1" cy="414.7" r="2.5"/><circle cx="169.0" cy="382.6" r="2.5"/><circle cx="169.3" cy="380.6" r="2.5"/><circle cx="171.1" cy="412.7" r="2.5"/><circle cx="164.5" cy="398.5" r="2.5"/><circle cx="172.1" cy="399.9" r="2.5"/><circle cx="173.9" cy="386.4" r="2.5"/><circle cx="166.9" cy="390.7" r="2.5"/><circle cx="166.9" cy="386.8" r="2.5"/><circle cx="173.5" cy="396.8" r="2.5"/><circle cx="169.5" cy="389.2" r="2.5"/><circle cx="167.5" cy="399.5" r="2.5"/><circle cx="175.2" cy="398.1" r="2.5"/><circle cx="164.5" cy="389.5" r="2.5"/><circle cx="166.2" cy="407.7" r="2.5"/><circle cx="169.3" cy="381.6" r="2.5"/><circle cx="166.1" cy="390.8" r="2.5"/><circle cx="168.0" cy="402.4" r="2.5"/><circle cx="174.5" cy="390.5" r="2.5"/><circle cx="174.2" cy="401.5" r="2.5"/><circle cx="164.5" cy="398.9" r="2.5"/><circle cx="175.2" cy="391.5" r="2.5"/><circle cx="164.0" cy="382.7" r="2.5"/><circle cx="165.4" cy="397.0" r="2.5"/><circle cx="163.8" cy="382.3" r="2.5"/><circle cx="166.0" cy="400.6" r="2.5"/><circle cx="168.8" cy="379.7" r="2.5"/><circle cx="170.4" cy="400.5" r="2.5"/><circle cx="165.4" cy="388.4" r="2.5"/><circle cx="172.1" cy="402.1" r="2.5"/><circle cx="166.1" cy="412.4" r="2.5"/><circle cx="170.9" cy="397.7" r="2.5"/><circle cx="169.5" cy="395.6" r="2.5"/><circle cx="170.9" cy="391.7" r="2.5"/><circle cx="172.0" cy="401.4" r="2.5"/><circle cx="166.1" cy="399.2" r="2.5"/><circle cx="164.6" cy="377.7" r="2.5"/><circle cx="168.0" cy="345.0" r="2.5"/><circle cx="170.0" cy="350.0" r="2.5"/><circle cx="172.0" cy="351.0" r="2.5"/><circle cx="168.0" cy="355.0" r="2.5"/><circle cx="173.0" cy="358.0" r="2.5"/><circle cx="170.0" cy="360.0" r="2.5"/><circle cx="167.0" cy="364.0" r="2.5"/><circle cx="172.0" cy="363.0" r="2.5"/><circle cx="169.5" cy="367.0" r="2.5"/><circle cx="174.0" cy="366.5" r="2.5"/><circle cx="166.0" cy="418.0" r="2.5"/><circle cx="172.0" cy="416.0" r="2.5"/><circle cx="170.0" cy="421.0" r="2.5"/></g>
<path d="M88.40,273.30 V425.70 H198.00" fill="none" stroke="#111" stroke-width="2.7" stroke-linejoin="miter"/>
<rect x="88.90" y="315.05" width="4.5" height="2.5" fill="#111"/>
<rect x="88.90" y="356.85" width="4.5" height="2.5" fill="#111"/>
<rect x="88.90" y="399.25" width="4.5" height="2.5" fill="#111"/>
<rect x="115.00" y="279.60" width="55.00" height="2.8" fill="#111"/>
<path d="M266.70,300.70C267.10,300.70 267.28,304.55 267.90,306.60C268.52,308.65 269.45,310.88 270.40,313.00C271.35,315.12 272.72,317.18 273.60,319.30C274.48,321.42 275.07,323.58 275.70,325.70C276.33,327.82 276.68,329.88 277.40,332.00C278.12,334.12 279.03,336.27 280.00,338.40C280.97,340.53 282.38,342.85 283.20,344.80C284.02,346.75 284.52,348.33 284.90,350.10C285.28,351.87 285.55,353.63 285.50,355.40C285.45,357.17 285.23,358.77 284.60,360.70C283.97,362.63 282.90,364.88 281.70,367.00C280.50,369.12 278.82,371.28 277.40,373.40C275.98,375.52 274.47,377.58 273.20,379.70C271.93,381.82 270.76,383.97 269.80,386.10C268.84,388.23 267.94,390.55 267.42,392.50C266.90,394.45 266.94,397.80 266.70,397.80C266.46,397.80 266.50,394.45 265.98,392.50C265.46,390.55 264.56,388.23 263.60,386.10C262.64,383.97 261.47,381.82 260.20,379.70C258.93,377.58 257.42,375.52 256.00,373.40C254.58,371.28 252.90,369.12 251.70,367.00C250.50,364.88 249.43,362.63 248.80,360.70C248.17,358.77 247.95,357.17 247.90,355.40C247.85,353.63 248.12,351.87 248.50,350.10C248.88,348.33 249.38,346.75 250.20,344.80C251.02,342.85 252.43,340.53 253.40,338.40C254.37,336.27 255.28,334.12 256.00,332.00C256.72,329.88 257.07,327.82 257.70,325.70C258.33,323.58 258.92,321.42 259.80,319.30C260.68,317.18 262.05,315.12 263.00,313.00C263.95,310.88 264.88,308.65 265.50,306.60C266.12,304.55 266.30,300.70 266.70,300.70Z" fill="#7b1a8c" stroke="#30242a" stroke-width="1.25" stroke-linejoin="round"/>
<g fill="#7b1a8c" fill-opacity="0.68" stroke="#fff" stroke-opacity="0.88" stroke-width="0.78"><circle cx="266.9" cy="318.9" r="2.5"/><circle cx="267.7" cy="323.1" r="2.5"/><circle cx="264.4" cy="325.6" r="2.5"/><circle cx="270.6" cy="327.8" r="2.5"/><circle cx="267.7" cy="334.6" r="2.5"/><circle cx="270.3" cy="336.6" r="2.5"/><circle cx="263.5" cy="339.1" r="2.5"/><circle cx="261.0" cy="342.5" r="2.5"/><circle cx="263.7" cy="341.8" r="2.5"/><circle cx="270.6" cy="346.3" r="2.5"/><circle cx="266.6" cy="348.0" r="2.5"/><circle cx="270.6" cy="352.0" r="2.5"/><circle cx="267.7" cy="354.2" r="2.5"/><circle cx="265.2" cy="355.4" r="2.5"/><circle cx="269.4" cy="355.9" r="2.5"/><circle cx="271.1" cy="358.4" r="2.5"/><circle cx="267.7" cy="362.6" r="2.5"/><circle cx="271.1" cy="363.5" r="2.5"/><circle cx="261.8" cy="367.7" r="2.5"/><circle cx="267.7" cy="366.8" r="2.5"/><circle cx="265.2" cy="371.5" r="2.5"/><circle cx="269.4" cy="370.5" r="2.5"/><circle cx="263.5" cy="379.9" r="2.5"/><circle cx="269.4" cy="379.9" r="2.5"/></g>
<path d="M320.90,327.00C321.18,327.00 321.24,330.52 321.74,332.10C322.24,333.68 322.99,335.03 323.90,336.50C324.81,337.97 325.98,339.43 327.20,340.90C328.42,342.37 329.92,343.83 331.20,345.30C332.48,346.77 333.80,348.23 334.90,349.70C336.00,351.17 337.07,352.63 337.80,354.10C338.53,355.57 338.97,357.03 339.30,358.50C339.63,359.97 339.87,361.43 339.80,362.90C339.73,364.37 339.42,365.65 338.90,367.30C338.38,368.95 337.62,370.97 336.70,372.80C335.78,374.63 334.53,376.47 333.40,378.30C332.27,380.13 331.12,381.97 329.90,383.80C328.68,385.63 327.05,387.65 326.10,389.30C325.15,390.95 324.68,392.23 324.20,393.70C323.72,395.17 323.42,396.45 323.20,398.10C322.98,399.75 322.97,401.22 322.90,403.60C322.83,405.98 322.83,409.28 322.80,412.40C322.77,415.52 322.72,420.20 322.70,422.30C322.68,424.40 323.30,424.55 322.70,425.00C322.10,425.45 319.70,425.45 319.10,425.00C318.50,424.55 319.12,424.40 319.10,422.30C319.08,420.20 319.03,415.52 319.00,412.40C318.97,409.28 318.97,405.98 318.90,403.60C318.83,401.22 318.82,399.75 318.60,398.10C318.38,396.45 318.08,395.17 317.60,393.70C317.12,392.23 316.65,390.95 315.70,389.30C314.75,387.65 313.12,385.63 311.90,383.80C310.68,381.97 309.53,380.13 308.40,378.30C307.27,376.47 306.02,374.63 305.10,372.80C304.18,370.97 303.42,368.95 302.90,367.30C302.38,365.65 302.07,364.37 302.00,362.90C301.93,361.43 302.17,359.97 302.50,358.50C302.83,357.03 303.27,355.57 304.00,354.10C304.73,352.63 305.80,351.17 306.90,349.70C308.00,348.23 309.32,346.77 310.60,345.30C311.88,343.83 313.38,342.37 314.60,340.90C315.82,339.43 316.99,337.97 317.90,336.50C318.81,335.03 319.56,333.68 320.06,332.10C320.56,330.52 320.62,327.00 320.90,327.00Z" fill="#d9474f" stroke="#30242a" stroke-width="1.25" stroke-linejoin="round"/>
<g fill="#d23a46" fill-opacity="0.68" stroke="#fff" stroke-opacity="0.88" stroke-width="0.78"><circle cx="326.0" cy="344.4" r="2.5"/><circle cx="320.3" cy="345.9" r="2.5"/><circle cx="320.3" cy="349.7" r="2.5"/><circle cx="326.3" cy="353.4" r="2.5"/><circle cx="316.6" cy="354.7" r="2.5"/><circle cx="322.2" cy="358.5" r="2.5"/><circle cx="326.3" cy="358.5" r="2.5"/><circle cx="324.1" cy="361.3" r="2.5"/><circle cx="315.1" cy="364.7" r="2.5"/><circle cx="319.9" cy="364.1" r="2.5"/><circle cx="322.2" cy="367.0" r="2.5"/><circle cx="325.0" cy="369.2" r="2.5"/><circle cx="316.2" cy="372.6" r="2.5"/><circle cx="322.0" cy="372.8" r="2.5"/><circle cx="324.1" cy="378.6" r="2.5"/><circle cx="319.4" cy="379.7" r="2.5"/><circle cx="316.2" cy="382.0" r="2.5"/><circle cx="316.2" cy="384.2" r="2.5"/><circle cx="318.1" cy="385.8" r="2.5"/><circle cx="316.6" cy="391.0" r="2.5"/><circle cx="322.2" cy="408.7" r="2.5"/><circle cx="318.1" cy="418.6" r="2.5"/></g>
<path d="M239.70,273.30 V425.70 H349.30" fill="none" stroke="#111" stroke-width="2.7" stroke-linejoin="miter"/>
<rect x="240.20" y="308.65" width="4.5" height="2.5" fill="#111"/>
<rect x="240.20" y="355.15" width="4.5" height="2.5" fill="#111"/>
<rect x="240.20" y="402.05" width="4.5" height="2.5" fill="#111"/>
<rect x="266.30" y="279.60" width="55.00" height="2.8" fill="#111"/>
<path d="M418.00,307.60C418.26,307.60 418.41,314.07 418.78,317.40C419.15,320.73 419.61,324.20 420.20,327.60C420.79,331.00 421.70,334.82 422.30,337.80C422.90,340.78 423.12,342.93 423.80,345.50C424.48,348.07 425.38,350.85 426.40,353.20C427.42,355.55 428.63,357.47 429.90,359.60C431.17,361.73 432.97,363.87 434.00,366.00C435.03,368.13 435.67,370.27 436.10,372.40C436.53,374.53 436.68,376.88 436.60,378.80C436.52,380.72 436.28,381.98 435.60,383.90C434.92,385.82 433.62,388.17 432.50,390.30C431.38,392.43 430.05,394.57 428.90,396.70C427.75,398.83 426.62,400.97 425.60,403.10C424.58,405.23 423.65,407.37 422.80,409.50C421.95,411.63 421.10,413.77 420.50,415.90C419.90,418.03 419.45,420.78 419.20,422.30C418.95,423.82 419.37,424.55 419.00,425.00C418.63,425.45 417.37,425.45 417.00,425.00C416.63,424.55 417.05,423.82 416.80,422.30C416.55,420.78 416.10,418.03 415.50,415.90C414.90,413.77 414.05,411.63 413.20,409.50C412.35,407.37 411.42,405.23 410.40,403.10C409.38,400.97 408.25,398.83 407.10,396.70C405.95,394.57 404.62,392.43 403.50,390.30C402.38,388.17 401.08,385.82 400.40,383.90C399.72,381.98 399.48,380.72 399.40,378.80C399.32,376.88 399.47,374.53 399.90,372.40C400.33,370.27 400.97,368.13 402.00,366.00C403.03,363.87 404.83,361.73 406.10,359.60C407.37,357.47 408.58,355.55 409.60,353.20C410.62,350.85 411.52,348.07 412.20,345.50C412.88,342.93 413.10,340.78 413.70,337.80C414.30,334.82 415.21,331.00 415.80,327.60C416.39,324.20 416.85,320.73 417.22,317.40C417.59,314.07 417.74,307.60 418.00,307.60Z" fill="#7b1a8c" stroke="#30242a" stroke-width="1.25" stroke-linejoin="round"/>
<g fill="#7b1a8c" fill-opacity="0.68" stroke="#fff" stroke-opacity="0.88" stroke-width="0.78"><circle cx="419.6" cy="328.6" r="2.5"/><circle cx="419.0" cy="342.7" r="2.5"/><circle cx="416.8" cy="347.0" r="2.5"/><circle cx="421.2" cy="347.0" r="2.5"/><circle cx="420.1" cy="351.3" r="2.5"/><circle cx="415.3" cy="364.3" r="2.5"/><circle cx="417.5" cy="363.2" r="2.5"/><circle cx="414.7" cy="366.4" r="2.5"/><circle cx="414.7" cy="371.8" r="2.5"/><circle cx="420.1" cy="371.8" r="2.5"/><circle cx="417.9" cy="375.7" r="2.5"/><circle cx="421.8" cy="376.6" r="2.5"/><circle cx="415.3" cy="378.3" r="2.5"/><circle cx="422.2" cy="380.9" r="2.5"/><circle cx="416.8" cy="383.1" r="2.5"/><circle cx="420.1" cy="384.8" r="2.5"/><circle cx="419.0" cy="390.2" r="2.5"/><circle cx="413.2" cy="392.4" r="2.5"/><circle cx="420.1" cy="396.7" r="2.5"/><circle cx="421.2" cy="401.0" r="2.5"/><circle cx="415.3" cy="410.7" r="2.5"/><circle cx="421.2" cy="416.1" r="2.5"/></g>
<path d="M472.20,339.60C472.48,339.60 472.64,343.93 473.04,346.00C473.44,348.07 473.91,350.00 474.60,352.00C475.29,354.00 476.30,356.00 477.20,358.00C478.10,360.00 479.00,362.00 480.00,364.00C481.00,366.00 482.00,368.00 483.20,370.00C484.40,372.00 486.07,374.17 487.20,376.00C488.33,377.83 489.33,379.33 490.00,381.00C490.67,382.67 491.00,384.50 491.20,386.00C491.40,387.50 491.47,388.33 491.20,390.00C490.93,391.67 490.27,394.00 489.60,396.00C488.93,398.00 488.03,400.00 487.20,402.00C486.37,404.00 485.53,406.00 484.60,408.00C483.67,410.00 482.60,412.17 481.60,414.00C480.60,415.83 479.53,417.50 478.60,419.00C477.67,420.50 476.57,422.00 476.00,423.00C475.43,424.00 476.33,424.67 475.20,425.00C474.07,425.33 470.33,425.33 469.20,425.00C468.07,424.67 468.97,424.00 468.40,423.00C467.83,422.00 466.73,420.50 465.80,419.00C464.87,417.50 463.80,415.83 462.80,414.00C461.80,412.17 460.73,410.00 459.80,408.00C458.87,406.00 458.03,404.00 457.20,402.00C456.37,400.00 455.47,398.00 454.80,396.00C454.13,394.00 453.47,391.67 453.20,390.00C452.93,388.33 453.00,387.50 453.20,386.00C453.40,384.50 453.73,382.67 454.40,381.00C455.07,379.33 456.07,377.83 457.20,376.00C458.33,374.17 460.00,372.00 461.20,370.00C462.40,368.00 463.40,366.00 464.40,364.00C465.40,362.00 466.30,360.00 467.20,358.00C468.10,356.00 469.11,354.00 469.80,352.00C470.49,350.00 470.96,348.07 471.36,346.00C471.76,343.93 471.92,339.60 472.20,339.60Z" fill="#d9474f" stroke="#30242a" stroke-width="1.25" stroke-linejoin="round"/>
<g fill="#d23a46" fill-opacity="0.68" stroke="#fff" stroke-opacity="0.88" stroke-width="0.78"><circle cx="473.5" cy="358.1" r="2.5"/><circle cx="476.2" cy="367.3" r="2.5"/><circle cx="467.6" cy="372.8" r="2.5"/><circle cx="467.0" cy="375.6" r="2.5"/><circle cx="466.1" cy="378.7" r="2.5"/><circle cx="471.3" cy="380.2" r="2.5"/><circle cx="467.6" cy="384.3" r="2.5"/><circle cx="471.6" cy="384.3" r="2.5"/><circle cx="474.4" cy="387.6" r="2.5"/><circle cx="476.8" cy="388.5" r="2.5"/><circle cx="473.5" cy="390.3" r="2.5"/><circle cx="467.9" cy="394.6" r="2.5"/><circle cx="471.6" cy="394.9" r="2.5"/><circle cx="474.6" cy="394.3" r="2.5"/><circle cx="468.9" cy="400.5" r="2.5"/><circle cx="471.6" cy="399.5" r="2.5"/><circle cx="475.3" cy="406.0" r="2.5"/><circle cx="472.5" cy="409.7" r="2.5"/><circle cx="474.4" cy="412.4" r="2.5"/><circle cx="469.8" cy="413.3" r="2.5"/><circle cx="467.0" cy="416.1" r="2.5"/><circle cx="471.6" cy="416.7" r="2.5"/><circle cx="471.6" cy="419.8" r="2.5"/></g>
<path d="M391.00,273.30 V425.70 H500.60" fill="none" stroke="#111" stroke-width="2.7" stroke-linejoin="miter"/>
<rect x="391.50" y="310.95" width="4.5" height="2.5" fill="#111"/>
<rect x="391.50" y="354.65" width="4.5" height="2.5" fill="#111"/>
<rect x="391.50" y="399.25" width="4.5" height="2.5" fill="#111"/>
<rect x="417.60" y="279.60" width="55.00" height="2.8" fill="#111"/>
<path d="M569.30,310.40C569.70,310.40 569.78,315.82 570.50,318.20C571.22,320.58 572.32,322.53 573.60,324.70C574.88,326.87 576.80,329.03 578.20,331.20C579.60,333.37 581.03,335.53 582.00,337.70C582.97,339.87 583.55,341.82 584.00,344.20C584.45,346.58 584.50,349.40 584.70,352.00C584.90,354.60 584.88,357.20 585.20,359.80C585.52,362.40 586.17,365.22 586.60,367.60C587.03,369.98 587.63,371.93 587.80,374.10C587.97,376.27 588.03,378.43 587.60,380.60C587.17,382.77 586.13,384.93 585.20,387.10C584.27,389.27 583.28,391.22 582.00,393.60C580.72,395.98 578.90,398.80 577.50,401.40C576.10,404.00 574.68,406.60 573.60,409.20C572.52,411.80 571.60,414.62 571.00,417.00C570.40,419.38 570.19,422.17 570.02,423.50C569.85,424.83 570.19,424.75 569.96,425.00C569.73,425.25 568.87,425.25 568.64,425.00C568.41,424.75 568.75,424.83 568.58,423.50C568.41,422.17 568.20,419.38 567.60,417.00C567.00,414.62 566.08,411.80 565.00,409.20C563.92,406.60 562.50,404.00 561.10,401.40C559.70,398.80 557.88,395.98 556.60,393.60C555.32,391.22 554.33,389.27 553.40,387.10C552.47,384.93 551.43,382.77 551.00,380.60C550.57,378.43 550.63,376.27 550.80,374.10C550.97,371.93 551.57,369.98 552.00,367.60C552.43,365.22 553.08,362.40 553.40,359.80C553.72,357.20 553.70,354.60 553.90,352.00C554.10,349.40 554.15,346.58 554.60,344.20C555.05,341.82 555.63,339.87 556.60,337.70C557.57,335.53 559.00,333.37 560.40,331.20C561.80,329.03 563.72,326.87 565.00,324.70C566.28,322.53 567.38,320.58 568.10,318.20C568.82,315.82 568.90,310.40 569.30,310.40Z" fill="#7b1a8c" stroke="#30242a" stroke-width="1.25" stroke-linejoin="round"/>
<g fill="#7b1a8c" fill-opacity="0.68" stroke="#fff" stroke-opacity="0.88" stroke-width="0.78"><circle cx="564.2" cy="333.0" r="2.5"/><circle cx="568.4" cy="335.1" r="2.5"/><circle cx="570.6" cy="341.5" r="2.5"/><circle cx="572.7" cy="343.2" r="2.5"/><circle cx="564.2" cy="348.5" r="2.5"/><circle cx="568.9" cy="347.4" r="2.5"/><circle cx="573.1" cy="351.7" r="2.5"/><circle cx="573.7" cy="355.5" r="2.5"/><circle cx="568.9" cy="357.0" r="2.5"/><circle cx="566.7" cy="360.2" r="2.5"/><circle cx="573.7" cy="373.3" r="2.5"/><circle cx="571.6" cy="377.1" r="2.5"/><circle cx="563.8" cy="380.9" r="2.5"/><circle cx="566.7" cy="382.4" r="2.5"/><circle cx="573.1" cy="382.4" r="2.5"/><circle cx="568.9" cy="385.6" r="2.5"/><circle cx="570.6" cy="388.1" r="2.5"/><circle cx="574.4" cy="388.1" r="2.5"/><circle cx="569.5" cy="390.9" r="2.5"/><circle cx="564.6" cy="396.6" r="2.5"/><circle cx="571.0" cy="396.6" r="2.5"/><circle cx="571.6" cy="407.2" r="2.5"/><circle cx="565.9" cy="419.1" r="2.5"/></g>
<path d="M623.50,295.90C623.70,295.90 623.87,301.90 624.10,304.80C624.33,307.70 624.55,310.82 624.90,313.30C625.25,315.78 625.63,317.58 626.20,319.70C626.77,321.82 627.42,323.88 628.30,326.00C629.18,328.12 630.30,330.27 631.50,332.40C632.70,334.53 634.20,336.85 635.50,338.80C636.80,340.75 638.23,342.33 639.30,344.10C640.37,345.87 641.37,347.82 641.90,349.40C642.43,350.98 642.57,352.20 642.50,353.60C642.43,355.00 642.20,356.03 641.50,357.80C640.80,359.57 639.55,362.07 638.30,364.20C637.05,366.33 635.42,368.48 634.00,370.60C632.58,372.72 631.10,374.78 629.80,376.90C628.50,379.02 627.15,381.35 626.20,383.30C625.25,385.25 624.55,387.18 624.10,388.60C623.65,390.02 623.70,391.80 623.50,391.80C623.30,391.80 623.35,390.02 622.90,388.60C622.45,387.18 621.75,385.25 620.80,383.30C619.85,381.35 618.50,379.02 617.20,376.90C615.90,374.78 614.42,372.72 613.00,370.60C611.58,368.48 609.95,366.33 608.70,364.20C607.45,362.07 606.20,359.57 605.50,357.80C604.80,356.03 604.57,355.00 604.50,353.60C604.43,352.20 604.57,350.98 605.10,349.40C605.63,347.82 606.63,345.87 607.70,344.10C608.77,342.33 610.20,340.75 611.50,338.80C612.80,336.85 614.30,334.53 615.50,332.40C616.70,330.27 617.82,328.12 618.70,326.00C619.58,323.88 620.23,321.82 620.80,319.70C621.37,317.58 621.75,315.78 622.10,313.30C622.45,310.82 622.67,307.70 622.90,304.80C623.13,301.90 623.30,295.90 623.50,295.90Z" fill="#d9474f" stroke="#30242a" stroke-width="1.25" stroke-linejoin="round"/>
<g fill="#d23a46" fill-opacity="0.68" stroke="#fff" stroke-opacity="0.88" stroke-width="0.78"><circle cx="626.3" cy="311.9" r="2.5"/><circle cx="627.7" cy="325.0" r="2.5"/><circle cx="624.4" cy="329.2" r="2.5"/><circle cx="620.6" cy="334.5" r="2.5"/><circle cx="627.7" cy="335.5" r="2.5"/><circle cx="621.0" cy="340.3" r="2.5"/><circle cx="617.5" cy="345.1" r="2.5"/><circle cx="620.0" cy="347.0" r="2.5"/><circle cx="624.8" cy="350.3" r="2.5"/><circle cx="627.7" cy="351.8" r="2.5"/><circle cx="617.1" cy="354.7" r="2.5"/><circle cx="620.6" cy="356.0" r="2.5"/><circle cx="626.3" cy="357.2" r="2.5"/><circle cx="618.6" cy="361.8" r="2.5"/><circle cx="622.9" cy="365.3" r="2.5"/><circle cx="626.7" cy="368.1" r="2.5"/><circle cx="620.6" cy="370.1" r="2.5"/><circle cx="620.0" cy="373.9" r="2.5"/><circle cx="624.8" cy="374.5" r="2.5"/><circle cx="626.3" cy="375.8" r="2.5"/></g>
<path d="M542.30,273.30 V425.70 H651.90" fill="none" stroke="#111" stroke-width="2.7" stroke-linejoin="miter"/>
<rect x="542.80" y="313.85" width="4.5" height="2.5" fill="#111"/>
<rect x="542.80" y="354.35" width="4.5" height="2.5" fill="#111"/>
<rect x="542.80" y="395.35" width="4.5" height="2.5" fill="#111"/>
<rect x="568.90" y="279.60" width="55.00" height="2.8" fill="#111"/>
<path d="M720.60,308.30C721.00,308.30 721.33,315.25 721.80,318.20C722.27,321.15 722.57,323.40 723.40,326.00C724.23,328.60 725.50,331.20 726.80,333.80C728.10,336.40 729.78,339.00 731.20,341.60C732.62,344.20 734.18,346.80 735.30,349.40C736.42,352.00 737.25,354.60 737.90,357.20C738.55,359.80 738.98,362.83 739.20,365.00C739.42,367.17 739.53,368.03 739.20,370.20C738.87,372.37 738.10,375.40 737.20,378.00C736.30,380.60 734.98,383.20 733.80,385.80C732.62,388.40 731.15,391.00 730.10,393.60C729.05,396.20 728.37,398.80 727.50,401.40C726.63,404.00 725.67,406.60 724.90,409.20C724.13,411.80 723.40,414.62 722.90,417.00C722.40,419.38 722.08,422.17 721.90,423.50C721.72,424.83 722.22,424.75 721.80,425.00C721.38,425.25 719.82,425.25 719.40,425.00C718.98,424.75 719.48,424.83 719.30,423.50C719.12,422.17 718.80,419.38 718.30,417.00C717.80,414.62 717.07,411.80 716.30,409.20C715.53,406.60 714.57,404.00 713.70,401.40C712.83,398.80 712.15,396.20 711.10,393.60C710.05,391.00 708.58,388.40 707.40,385.80C706.22,383.20 704.90,380.60 704.00,378.00C703.10,375.40 702.33,372.37 702.00,370.20C701.67,368.03 701.78,367.17 702.00,365.00C702.22,362.83 702.65,359.80 703.30,357.20C703.95,354.60 704.78,352.00 705.90,349.40C707.02,346.80 708.58,344.20 710.00,341.60C711.42,339.00 713.10,336.40 714.40,333.80C715.70,331.20 716.97,328.60 717.80,326.00C718.63,323.40 718.93,321.15 719.40,318.20C719.87,315.25 720.20,308.30 720.60,308.30Z" fill="#7b1a8c" stroke="#30242a" stroke-width="1.25" stroke-linejoin="round"/>
<g fill="#7b1a8c" fill-opacity="0.68" stroke="#fff" stroke-opacity="0.88" stroke-width="0.78"><circle cx="720.5" cy="330.9" r="2.5"/><circle cx="719.9" cy="335.8" r="2.5"/><circle cx="720.5" cy="342.8" r="2.5"/><circle cx="716.3" cy="349.1" r="2.5"/><circle cx="720.5" cy="350.6" r="2.5"/><circle cx="714.8" cy="354.9" r="2.5"/><circle cx="721.6" cy="354.9" r="2.5"/><circle cx="715.2" cy="358.5" r="2.5"/><circle cx="722.0" cy="359.1" r="2.5"/><circle cx="724.1" cy="366.1" r="2.5"/><circle cx="720.5" cy="369.1" r="2.5"/><circle cx="724.7" cy="370.3" r="2.5"/><circle cx="719.9" cy="372.9" r="2.5"/><circle cx="723.7" cy="376.1" r="2.5"/><circle cx="720.5" cy="378.8" r="2.5"/><circle cx="719.0" cy="383.5" r="2.5"/><circle cx="719.4" cy="385.6" r="2.5"/><circle cx="719.9" cy="389.8" r="2.5"/><circle cx="715.2" cy="395.1" r="2.5"/><circle cx="720.5" cy="402.6" r="2.5"/><circle cx="715.2" cy="403.6" r="2.5"/><circle cx="724.7" cy="407.2" r="2.5"/><circle cx="721.1" cy="408.9" r="2.5"/><circle cx="721.1" cy="419.1" r="2.5"/></g>
<path d="M774.80,290.80C774.94,290.80 775.02,297.13 775.22,300.30C775.42,303.47 775.55,307.08 776.00,309.80C776.45,312.52 777.00,314.33 777.90,316.60C778.80,318.87 780.27,321.13 781.40,323.40C782.53,325.67 783.80,327.70 784.70,330.20C785.60,332.70 786.12,335.67 786.80,338.40C787.48,341.13 788.02,344.10 788.80,346.60C789.58,349.10 790.73,351.37 791.50,353.40C792.27,355.43 793.05,356.98 793.40,358.80C793.75,360.62 793.92,362.25 793.60,364.30C793.28,366.35 792.45,368.83 791.50,371.10C790.55,373.37 789.27,375.42 787.90,377.90C786.53,380.38 784.65,383.52 783.30,386.00C781.95,388.48 780.83,390.53 779.80,392.80C778.77,395.07 777.81,397.33 777.10,399.60C776.39,401.87 775.86,404.35 775.52,406.40C775.18,408.45 775.16,410.83 775.04,411.90C774.92,412.97 774.88,412.80 774.80,412.80C774.72,412.80 774.68,412.97 774.56,411.90C774.44,410.83 774.42,408.45 774.08,406.40C773.74,404.35 773.21,401.87 772.50,399.60C771.79,397.33 770.83,395.07 769.80,392.80C768.77,390.53 767.65,388.48 766.30,386.00C764.95,383.52 763.07,380.38 761.70,377.90C760.33,375.42 759.05,373.37 758.10,371.10C757.15,368.83 756.32,366.35 756.00,364.30C755.68,362.25 755.85,360.62 756.20,358.80C756.55,356.98 757.33,355.43 758.10,353.40C758.87,351.37 760.02,349.10 760.80,346.60C761.58,344.10 762.12,341.13 762.80,338.40C763.48,335.67 764.00,332.70 764.90,330.20C765.80,327.70 767.07,325.67 768.20,323.40C769.33,321.13 770.80,318.87 771.70,316.60C772.60,314.33 773.15,312.52 773.60,309.80C774.05,307.08 774.18,303.47 774.38,300.30C774.58,297.13 774.66,290.80 774.80,290.80Z" fill="#d9474f" stroke="#30242a" stroke-width="1.25" stroke-linejoin="round"/>
<g fill="#d23a46" fill-opacity="0.68" stroke="#fff" stroke-opacity="0.88" stroke-width="0.78"><circle cx="769.0" cy="310.0" r="2.5"/><circle cx="770.2" cy="334.3" r="2.5"/><circle cx="778.3" cy="334.3" r="2.5"/><circle cx="769.0" cy="340.6" r="2.5"/><circle cx="777.2" cy="342.9" r="2.5"/><circle cx="775.3" cy="345.2" r="2.5"/><circle cx="771.4" cy="353.8" r="2.5"/><circle cx="773.0" cy="356.8" r="2.5"/><circle cx="770.2" cy="362.2" r="2.5"/><circle cx="775.3" cy="362.2" r="2.5"/><circle cx="779.0" cy="362.2" r="2.5"/><circle cx="770.2" cy="367.7" r="2.5"/><circle cx="774.8" cy="368.4" r="2.5"/><circle cx="769.0" cy="372.4" r="2.5"/><circle cx="778.3" cy="376.6" r="2.5"/><circle cx="772.5" cy="380.0" r="2.5"/><circle cx="776.7" cy="380.0" r="2.5"/><circle cx="779.0" cy="384.0" r="2.5"/><circle cx="773.0" cy="393.3" r="2.5"/></g>
<path d="M693.60,273.30 V425.70 H803.20" fill="none" stroke="#111" stroke-width="2.7" stroke-linejoin="miter"/>
<rect x="694.10" y="280.15" width="4.5" height="2.5" fill="#111"/>
<rect x="694.10" y="322.65" width="4.5" height="2.5" fill="#111"/>
<rect x="694.10" y="365.35" width="4.5" height="2.5" fill="#111"/>
<rect x="694.10" y="407.85" width="4.5" height="2.5" fill="#111"/>
<rect x="720.20" y="279.60" width="55.00" height="2.8" fill="#111"/>
<rect x="332.6" y="475.4" width="26.4" height="16" fill="#7b1a8c" stroke="#2a2226" stroke-width="0.8"/>
<rect x="440.6" y="475.4" width="26" height="16" fill="#cb4259" stroke="#2a2226" stroke-width="0.8"/>
<g filter="url(#gs)">
<text x="125.2" y="19.6" font-size="16.85" fill="#050505">Rest</text>
<text x="207.8" y="19.6" font-size="16.85" fill="#050505">Spatial working memory</text>
<text x="427.0" y="19.6" font-size="16.85" fill="#050505">Math</text>
<text x="535.2" y="19.6" font-size="16.85" fill="#050505">Feature matching</text>
<text x="699.8" y="19.6" font-size="16.85" fill="#050505">Association</text>
<text transform="translate(41.5,141.6) rotate(-90)" font-size="19.2" font-weight="bold" fill="#1d958f">FC</text>
<text transform="translate(40.5,353.8) rotate(-90)" font-size="19.3" font-weight="bold" fill="#f5a238">FS</text>
<text transform="translate(83.3,70.2) scale(0.91,1)" font-size="17" text-anchor="end" fill="#1a1a1a">4.0</text>
<text transform="translate(83.3,112.7) scale(0.91,1)" font-size="17" text-anchor="end" fill="#1a1a1a">2.0</text>
<text transform="translate(83.3,154.9) scale(0.91,1)" font-size="17" text-anchor="end" fill="#1a1a1a">0.0</text>
<text transform="translate(83.3,197.9) scale(0.91,1)" font-size="17" text-anchor="end" fill="#1a1a1a">-2.0</text>
<text x="142.9" y="56.4" font-size="13" font-weight="bold" letter-spacing="1.05" text-anchor="middle" fill="#111" stroke="#111" stroke-width="0.35">***</text>
<text transform="translate(234.6,103.0) scale(0.91,1)" font-size="17" text-anchor="end" fill="#1a1a1a">1.5</text>
<text transform="translate(234.6,152.3) scale(0.91,1)" font-size="17" text-anchor="end" fill="#1a1a1a">0.0</text>
<text transform="translate(234.6,202.1) scale(0.91,1)" font-size="17" text-anchor="end" fill="#1a1a1a">-1.5</text>
<text x="294.2" y="56.4" font-size="13" font-weight="bold" letter-spacing="1.05" text-anchor="middle" fill="#111" stroke="#111" stroke-width="0.35">***</text>
<text transform="translate(385.9,86.9) scale(0.91,1)" font-size="17" text-anchor="end" fill="#1a1a1a">1.5</text>
<text transform="translate(385.9,142.2) scale(0.91,1)" font-size="17" text-anchor="end" fill="#1a1a1a">0.0</text>
<text transform="translate(385.9,197.4) scale(0.91,1)" font-size="17" text-anchor="end" fill="#1a1a1a">-1.5</text>
<text x="445.5" y="56.4" font-size="13" font-weight="bold" letter-spacing="1.05" text-anchor="middle" fill="#111" stroke="#111" stroke-width="0.35">***</text>
<text transform="translate(537.2,105.5) scale(0.91,1)" font-size="17" text-anchor="end" fill="#1a1a1a">1.5</text>
<text transform="translate(537.2,151.7) scale(0.91,1)" font-size="17" text-anchor="end" fill="#1a1a1a">0.0</text>
<text transform="translate(537.2,198.9) scale(0.91,1)" font-size="17" text-anchor="end" fill="#1a1a1a">-1.5</text>
<text x="596.8" y="56.4" font-size="13" font-weight="bold" letter-spacing="1.05" text-anchor="middle" fill="#111" stroke="#111" stroke-width="0.35">***</text>
<text transform="translate(688.5,71.5) scale(0.91,1)" font-size="17" text-anchor="end" fill="#1a1a1a">3.0</text>
<text transform="translate(688.5,114.7) scale(0.91,1)" font-size="17" text-anchor="end" fill="#1a1a1a">1.5</text>
<text transform="translate(688.5,158.2) scale(0.91,1)" font-size="17" text-anchor="end" fill="#1a1a1a">0.0</text>
<text transform="translate(688.5,201.9) scale(0.91,1)" font-size="17" text-anchor="end" fill="#1a1a1a">-1.5</text>
<text x="748.1" y="56.4" font-size="13" font-weight="bold" letter-spacing="1.05" text-anchor="middle" fill="#111" stroke="#111" stroke-width="0.35">***</text>
<text transform="translate(83.3,322.1) scale(0.91,1)" font-size="17" text-anchor="end" fill="#1a1a1a">0.20</text>
<text transform="translate(83.3,363.9) scale(0.91,1)" font-size="17" text-anchor="end" fill="#1a1a1a">0.16</text>
<text transform="translate(83.3,406.3) scale(0.91,1)" font-size="17" text-anchor="end" fill="#1a1a1a">0.12</text>
<text x="142.9" y="275.9" font-size="13" font-weight="bold" letter-spacing="1.05" text-anchor="middle" fill="#111" stroke="#111" stroke-width="0.35">***</text>
<text transform="translate(234.6,315.7) scale(0.91,1)" font-size="17" text-anchor="end" fill="#1a1a1a">0.14</text>
<text transform="translate(234.6,362.2) scale(0.91,1)" font-size="17" text-anchor="end" fill="#1a1a1a">0.12</text>
<text transform="translate(234.6,409.1) scale(0.91,1)" font-size="17" text-anchor="end" fill="#1a1a1a">0.10</text>
<text x="294.2" y="275.9" font-size="13" font-weight="bold" letter-spacing="1.05" text-anchor="middle" fill="#111" stroke="#111" stroke-width="0.35">**</text>
<text transform="translate(385.9,318.0) scale(0.91,1)" font-size="17" text-anchor="end" fill="#1a1a1a">0.15</text>
<text transform="translate(385.9,361.7) scale(0.91,1)" font-size="17" text-anchor="end" fill="#1a1a1a">0.14</text>
<text transform="translate(385.9,406.3) scale(0.91,1)" font-size="17" text-anchor="end" fill="#1a1a1a">0.12</text>
<text x="445.5" y="275.9" font-size="13" font-weight="bold" letter-spacing="1.05" text-anchor="middle" fill="#111" stroke="#111" stroke-width="0.35">**</text>
<text transform="translate(537.2,320.9) scale(0.91,1)" font-size="17" text-anchor="end" fill="#1a1a1a">0.15</text>
<text transform="translate(537.2,361.4) scale(0.91,1)" font-size="17" text-anchor="end" fill="#1a1a1a">0.12</text>
<text transform="translate(537.2,402.4) scale(0.91,1)" font-size="17" text-anchor="end" fill="#1a1a1a">0.10</text>
<text x="596.8" y="275.9" font-size="13" font-weight="bold" letter-spacing="1.05" text-anchor="middle" fill="#111" stroke="#111" stroke-width="0.35">**</text>
<text transform="translate(688.5,287.2) scale(0.91,1)" font-size="17" text-anchor="end" fill="#1a1a1a">0.18</text>
<text transform="translate(688.5,329.7) scale(0.91,1)" font-size="17" text-anchor="end" fill="#1a1a1a">0.15</text>
<text transform="translate(688.5,372.4) scale(0.91,1)" font-size="17" text-anchor="end" fill="#1a1a1a">0.12</text>
<text transform="translate(688.5,414.9) scale(0.91,1)" font-size="17" text-anchor="end" fill="#1a1a1a">0.09</text>
<text x="748.1" y="275.9" font-size="13" font-weight="bold" letter-spacing="1.05" text-anchor="middle" fill="#111" stroke="#111" stroke-width="0.35">*</text>
<text x="331.5" y="464.6" font-size="17" fill="#111">Interaction with DAN-A</text>
<text x="367.0" y="489.4" font-size="17" fill="#111">Visual</text>
<text x="474.2" y="489.4" font-size="17" fill="#111">DMN</text>
</g>
</svg>
</div>
</body></html>
